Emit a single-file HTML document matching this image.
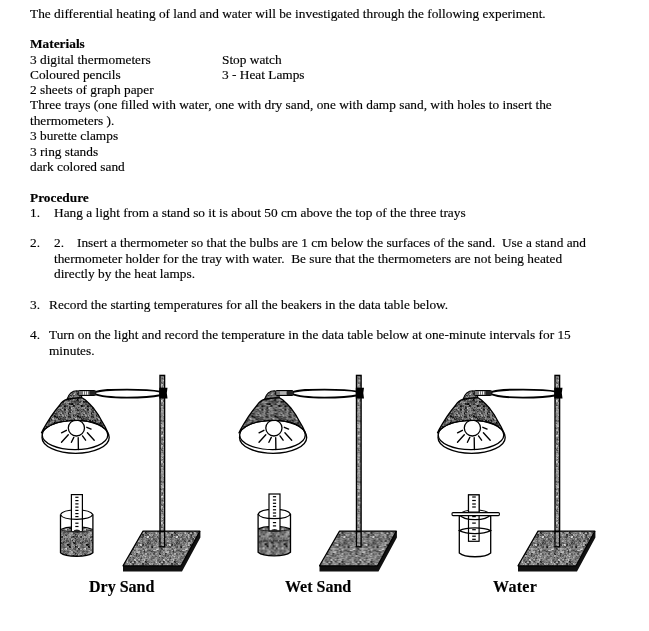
<!DOCTYPE html>
<html><head><meta charset="utf-8">
<style>
html,body{margin:0;padding:0;background:#fff;}
body{width:649px;height:631px;position:relative;overflow:hidden;font-family:"Liberation Serif",serif;font-size:13.333px;color:#000;}
.l{position:absolute;left:30px;white-space:pre;line-height:15.33px;will-change:transform;-webkit-text-stroke:0.15px #000;}
b{font-weight:bold;}
.cap{position:absolute;font-weight:bold;font-size:16px;white-space:pre;line-height:18px;will-change:transform;-webkit-text-stroke:0.15px #000;}
svg{position:absolute;left:0;top:0;}
</style></head><body>
<div class="l" style="top:6px">The differential heating of land and water will be investigated through the following experiment.</div>
<div class="l" style="top:36px"><b>Materials</b></div>
<div class="l" style="top:52px">3 digital thermometers</div>
<div class="l" style="top:52px;left:222px">Stop watch</div>
<div class="l" style="top:67px">Coloured pencils</div>
<div class="l" style="top:67px;left:222px">3 - Heat Lamps</div>
<div class="l" style="top:82px">2 sheets of graph paper</div>
<div class="l" style="top:97px">Three trays (one filled with water, one with dry sand, one with damp sand, with holes to insert the</div>
<div class="l" style="top:113px">thermometers ).</div>
<div class="l" style="top:128px">3 burette clamps</div>
<div class="l" style="top:144px">3 ring stands</div>
<div class="l" style="top:159px">dark colored sand</div>
<div class="l" style="top:190px"><b>Procedure</b></div>
<div class="l" style="top:205px">1.</div><div class="l" style="top:205px;left:54px">Hang a light from a stand so it is about 50 cm above the top of the three trays</div>
<div class="l" style="top:235px">2.</div><div class="l" style="top:235px;left:54px">2.</div><div class="l" style="top:235px;left:77px">Insert a thermometer so that the bulbs are 1 cm below the surfaces of the sand.  Use a stand and</div>
<div class="l" style="top:251px;left:54px">thermometer holder for the tray with water.  Be sure that the thermometers are not being heated</div>
<div class="l" style="top:266px;left:54px">directly by the heat lamps.</div>
<div class="l" style="top:297px">3.</div><div class="l" style="top:297px;left:49px">Record the starting temperatures for all the beakers in the data table below.</div>
<div class="l" style="top:327px">4.</div><div class="l" style="top:327px;left:49px">Turn on the light and record the temperature in the data table below at one-minute intervals for 15</div>
<div class="l" style="top:343px;left:49px">minutes.</div>
<svg width="649" height="631" viewBox="0 0 649 631">
<defs><pattern id="pshade" width="23" height="23" patternUnits="userSpaceOnUse"><rect x="0" y="0" width="1" height="1" fill="#3d3d3d"/><rect x="1" y="0" width="1" height="1" fill="#5b5b5b"/><rect x="2" y="0" width="1" height="1" fill="#787878"/><rect x="3" y="0" width="1" height="1" fill="#757575"/><rect x="4" y="0" width="1" height="1" fill="#4e4e4e"/><rect x="5" y="0" width="1" height="1" fill="#656565"/><rect x="6" y="0" width="1" height="1" fill="#5a5a5a"/><rect x="7" y="0" width="1" height="1" fill="#494949"/><rect x="8" y="0" width="1" height="1" fill="#757575"/><rect x="9" y="0" width="1" height="1" fill="#484848"/><rect x="10" y="0" width="1" height="1" fill="#4b4b4b"/><rect x="11" y="0" width="1" height="1" fill="#555555"/><rect x="12" y="0" width="1" height="1" fill="#7e7e7e"/><rect x="13" y="0" width="1" height="1" fill="#828282"/><rect x="14" y="0" width="1" height="1" fill="#303030"/><rect x="15" y="0" width="1" height="1" fill="#626262"/><rect x="16" y="0" width="1" height="1" fill="#979797"/><rect x="17" y="0" width="1" height="1" fill="#676767"/><rect x="18" y="0" width="1" height="1" fill="#656565"/><rect x="19" y="0" width="1" height="1" fill="#7c7c7c"/><rect x="20" y="0" width="1" height="1" fill="#7e7e7e"/><rect x="21" y="0" width="1" height="1" fill="#8c8c8c"/><rect x="22" y="0" width="1" height="1" fill="#3f3f3f"/><rect x="0" y="1" width="1" height="1" fill="#4e4e4e"/><rect x="1" y="1" width="1" height="1" fill="#4f4f4f"/><rect x="2" y="1" width="1" height="1" fill="#7d7d7d"/><rect x="3" y="1" width="1" height="1" fill="#878787"/><rect x="4" y="1" width="1" height="1" fill="#1c1c1c"/><rect x="5" y="1" width="1" height="1" fill="#6f6f6f"/><rect x="6" y="1" width="1" height="1" fill="#343434"/><rect x="7" y="1" width="1" height="1" fill="#636363"/><rect x="8" y="1" width="1" height="1" fill="#1f1f1f"/><rect x="9" y="1" width="1" height="1" fill="#444444"/><rect x="10" y="1" width="1" height="1" fill="#727272"/><rect x="11" y="1" width="1" height="1" fill="#545454"/><rect x="12" y="1" width="1" height="1" fill="#878787"/><rect x="13" y="1" width="1" height="1" fill="#959595"/><rect x="14" y="1" width="1" height="1" fill="#707070"/><rect x="15" y="1" width="1" height="1" fill="#6b6b6b"/><rect x="16" y="1" width="1" height="1" fill="#a2a2a2"/><rect x="17" y="1" width="1" height="1" fill="#989898"/><rect x="18" y="1" width="1" height="1" fill="#606060"/><rect x="19" y="1" width="1" height="1" fill="#a3a3a3"/><rect x="20" y="1" width="1" height="1" fill="#525252"/><rect x="21" y="1" width="1" height="1" fill="#808080"/><rect x="22" y="1" width="1" height="1" fill="#5f5f5f"/><rect x="0" y="2" width="1" height="1" fill="#2a2a2a"/><rect x="1" y="2" width="1" height="1" fill="#373737"/><rect x="2" y="2" width="1" height="1" fill="#808080"/><rect x="3" y="2" width="1" height="1" fill="#898989"/><rect x="4" y="2" width="1" height="1" fill="#4e4e4e"/><rect x="5" y="2" width="1" height="1" fill="#4e4e4e"/><rect x="6" y="2" width="1" height="1" fill="#7c7c7c"/><rect x="7" y="2" width="1" height="1" fill="#5a5a5a"/><rect x="8" y="2" width="1" height="1" fill="#101010"/><rect x="9" y="2" width="1" height="1" fill="#060606"/><rect x="10" y="2" width="1" height="1" fill="#414141"/><rect x="11" y="2" width="1" height="1" fill="#353535"/><rect x="12" y="2" width="1" height="1" fill="#626262"/><rect x="13" y="2" width="1" height="1" fill="#2d2d2d"/><rect x="14" y="2" width="1" height="1" fill="#4f4f4f"/><rect x="15" y="2" width="1" height="1" fill="#363636"/><rect x="16" y="2" width="1" height="1" fill="#797979"/><rect x="17" y="2" width="1" height="1" fill="#8c8c8c"/><rect x="18" y="2" width="1" height="1" fill="#494949"/><rect x="19" y="2" width="1" height="1" fill="#7f7f7f"/><rect x="20" y="2" width="1" height="1" fill="#858585"/><rect x="21" y="2" width="1" height="1" fill="#6c6c6c"/><rect x="22" y="2" width="1" height="1" fill="#1e1e1e"/><rect x="0" y="3" width="1" height="1" fill="#464646"/><rect x="1" y="3" width="1" height="1" fill="#252525"/><rect x="2" y="3" width="1" height="1" fill="#6d6d6d"/><rect x="3" y="3" width="1" height="1" fill="#848484"/><rect x="4" y="3" width="1" height="1" fill="#787878"/><rect x="5" y="3" width="1" height="1" fill="#909090"/><rect x="6" y="3" width="1" height="1" fill="#595959"/><rect x="7" y="3" width="1" height="1" fill="#888888"/><rect x="8" y="3" width="1" height="1" fill="#474747"/><rect x="9" y="3" width="1" height="1" fill="#474747"/><rect x="10" y="3" width="1" height="1" fill="#212121"/><rect x="11" y="3" width="1" height="1" fill="#151515"/><rect x="12" y="3" width="1" height="1" fill="#585858"/><rect x="13" y="3" width="1" height="1" fill="#444444"/><rect x="14" y="3" width="1" height="1" fill="#525252"/><rect x="15" y="3" width="1" height="1" fill="#6e6e6e"/><rect x="16" y="3" width="1" height="1" fill="#636363"/><rect x="17" y="3" width="1" height="1" fill="#363636"/><rect x="18" y="3" width="1" height="1" fill="#545454"/><rect x="19" y="3" width="1" height="1" fill="#343434"/><rect x="20" y="3" width="1" height="1" fill="#828282"/><rect x="21" y="3" width="1" height="1" fill="#777777"/><rect x="22" y="3" width="1" height="1" fill="#3c3c3c"/><rect x="0" y="4" width="1" height="1" fill="#686868"/><rect x="1" y="4" width="1" height="1" fill="#7b7b7b"/><rect x="2" y="4" width="1" height="1" fill="#6d6d6d"/><rect x="3" y="4" width="1" height="1" fill="#898989"/><rect x="4" y="4" width="1" height="1" fill="#474747"/><rect x="5" y="4" width="1" height="1" fill="#606060"/><rect x="6" y="4" width="1" height="1" fill="#b8b8b8"/><rect x="7" y="4" width="1" height="1" fill="#bbbbbb"/><rect x="8" y="4" width="1" height="1" fill="#626262"/><rect x="9" y="4" width="1" height="1" fill="#848484"/><rect x="10" y="4" width="1" height="1" fill="#5d5d5d"/><rect x="11" y="4" width="1" height="1" fill="#6e6e6e"/><rect x="12" y="4" width="1" height="1" fill="#1f1f1f"/><rect x="13" y="4" width="1" height="1" fill="#626262"/><rect x="14" y="4" width="1" height="1" fill="#2b2b2b"/><rect x="15" y="4" width="1" height="1" fill="#464646"/><rect x="16" y="4" width="1" height="1" fill="#4f4f4f"/><rect x="17" y="4" width="1" height="1" fill="#535353"/><rect x="18" y="4" width="1" height="1" fill="#4e4e4e"/><rect x="19" y="4" width="1" height="1" fill="#606060"/><rect x="20" y="4" width="1" height="1" fill="#9b9b9b"/><rect x="21" y="4" width="1" height="1" fill="#747474"/><rect x="22" y="4" width="1" height="1" fill="#727272"/><rect x="0" y="5" width="1" height="1" fill="#7f7f7f"/><rect x="1" y="5" width="1" height="1" fill="#646464"/><rect x="2" y="5" width="1" height="1" fill="#505050"/><rect x="3" y="5" width="1" height="1" fill="#5f5f5f"/><rect x="4" y="5" width="1" height="1" fill="#606060"/><rect x="5" y="5" width="1" height="1" fill="#242424"/><rect x="6" y="5" width="1" height="1" fill="#8a8a8a"/><rect x="7" y="5" width="1" height="1" fill="#adadad"/><rect x="8" y="5" width="1" height="1" fill="#828282"/><rect x="9" y="5" width="1" height="1" fill="#717171"/><rect x="10" y="5" width="1" height="1" fill="#989898"/><rect x="11" y="5" width="1" height="1" fill="#8a8a8a"/><rect x="12" y="5" width="1" height="1" fill="#303030"/><rect x="13" y="5" width="1" height="1" fill="#282828"/><rect x="14" y="5" width="1" height="1" fill="#383838"/><rect x="15" y="5" width="1" height="1" fill="#5a5a5a"/><rect x="16" y="5" width="1" height="1" fill="#474747"/><rect x="17" y="5" width="1" height="1" fill="#3f3f3f"/><rect x="18" y="5" width="1" height="1" fill="#4a4a4a"/><rect x="19" y="5" width="1" height="1" fill="#393939"/><rect x="20" y="5" width="1" height="1" fill="#717171"/><rect x="21" y="5" width="1" height="1" fill="#595959"/><rect x="22" y="5" width="1" height="1" fill="#6f6f6f"/><rect x="0" y="6" width="1" height="1" fill="#1c1c1c"/><rect x="1" y="6" width="1" height="1" fill="#575757"/><rect x="2" y="6" width="1" height="1" fill="#313131"/><rect x="3" y="6" width="1" height="1" fill="#141414"/><rect x="4" y="6" width="1" height="1" fill="#5d5d5d"/><rect x="5" y="6" width="1" height="1" fill="#474747"/><rect x="6" y="6" width="1" height="1" fill="#565656"/><rect x="7" y="6" width="1" height="1" fill="#747474"/><rect x="8" y="6" width="1" height="1" fill="#4a4a4a"/><rect x="9" y="6" width="1" height="1" fill="#3a3a3a"/><rect x="10" y="6" width="1" height="1" fill="#787878"/><rect x="11" y="6" width="1" height="1" fill="#777777"/><rect x="12" y="6" width="1" height="1" fill="#7b7b7b"/><rect x="13" y="6" width="1" height="1" fill="#747474"/><rect x="14" y="6" width="1" height="1" fill="#4b4b4b"/><rect x="15" y="6" width="1" height="1" fill="#3c3c3c"/><rect x="16" y="6" width="1" height="1" fill="#6a6a6a"/><rect x="17" y="6" width="1" height="1" fill="#323232"/><rect x="18" y="6" width="1" height="1" fill="#9d9d9d"/><rect x="19" y="6" width="1" height="1" fill="#a6a6a6"/><rect x="20" y="6" width="1" height="1" fill="#151515"/><rect x="21" y="6" width="1" height="1" fill="#121212"/><rect x="22" y="6" width="1" height="1" fill="#7f7f7f"/><rect x="0" y="7" width="1" height="1" fill="#292929"/><rect x="1" y="7" width="1" height="1" fill="#5a5a5a"/><rect x="2" y="7" width="1" height="1" fill="#747474"/><rect x="3" y="7" width="1" height="1" fill="#2b2b2b"/><rect x="4" y="7" width="1" height="1" fill="#5c5c5c"/><rect x="5" y="7" width="1" height="1" fill="#777777"/><rect x="6" y="7" width="1" height="1" fill="#848484"/><rect x="7" y="7" width="1" height="1" fill="#939393"/><rect x="8" y="7" width="1" height="1" fill="#585858"/><rect x="9" y="7" width="1" height="1" fill="#303030"/><rect x="10" y="7" width="1" height="1" fill="#656565"/><rect x="11" y="7" width="1" height="1" fill="#6d6d6d"/><rect x="12" y="7" width="1" height="1" fill="#7f7f7f"/><rect x="13" y="7" width="1" height="1" fill="#6c6c6c"/><rect x="14" y="7" width="1" height="1" fill="#292929"/><rect x="15" y="7" width="1" height="1" fill="#171717"/><rect x="16" y="7" width="1" height="1" fill="#585858"/><rect x="17" y="7" width="1" height="1" fill="#747474"/><rect x="18" y="7" width="1" height="1" fill="#8c8c8c"/><rect x="19" y="7" width="1" height="1" fill="#777777"/><rect x="20" y="7" width="1" height="1" fill="#0a0a0a"/><rect x="21" y="7" width="1" height="1" fill="#575757"/><rect x="22" y="7" width="1" height="1" fill="#6d6d6d"/><rect x="0" y="8" width="1" height="1" fill="#696969"/><rect x="1" y="8" width="1" height="1" fill="#222222"/><rect x="2" y="8" width="1" height="1" fill="#515151"/><rect x="3" y="8" width="1" height="1" fill="#4e4e4e"/><rect x="4" y="8" width="1" height="1" fill="#949494"/><rect x="5" y="8" width="1" height="1" fill="#787878"/><rect x="6" y="8" width="1" height="1" fill="#5b5b5b"/><rect x="7" y="8" width="1" height="1" fill="#686868"/><rect x="8" y="8" width="1" height="1" fill="#030303"/><rect x="9" y="8" width="1" height="1" fill="#454545"/><rect x="10" y="8" width="1" height="1" fill="#818181"/><rect x="11" y="8" width="1" height="1" fill="#6a6a6a"/><rect x="12" y="8" width="1" height="1" fill="#929292"/><rect x="13" y="8" width="1" height="1" fill="#9c9c9c"/><rect x="14" y="8" width="1" height="1" fill="#5f5f5f"/><rect x="15" y="8" width="1" height="1" fill="#6f6f6f"/><rect x="16" y="8" width="1" height="1" fill="#949494"/><rect x="17" y="8" width="1" height="1" fill="#929292"/><rect x="18" y="8" width="1" height="1" fill="#626262"/><rect x="19" y="8" width="1" height="1" fill="#555555"/><rect x="20" y="8" width="1" height="1" fill="#919191"/><rect x="21" y="8" width="1" height="1" fill="#797979"/><rect x="22" y="8" width="1" height="1" fill="#191919"/><rect x="0" y="9" width="1" height="1" fill="#3d3d3d"/><rect x="1" y="9" width="1" height="1" fill="#808080"/><rect x="2" y="9" width="1" height="1" fill="#595959"/><rect x="3" y="9" width="1" height="1" fill="#6c6c6c"/><rect x="4" y="9" width="1" height="1" fill="#818181"/><rect x="5" y="9" width="1" height="1" fill="#5c5c5c"/><rect x="6" y="9" width="1" height="1" fill="#626262"/><rect x="7" y="9" width="1" height="1" fill="#2d2d2d"/><rect x="8" y="9" width="1" height="1" fill="#1e1e1e"/><rect x="9" y="9" width="1" height="1" fill="#2d2d2d"/><rect x="10" y="9" width="1" height="1" fill="#858585"/><rect x="11" y="9" width="1" height="1" fill="#6a6a6a"/><rect x="12" y="9" width="1" height="1" fill="#727272"/><rect x="13" y="9" width="1" height="1" fill="#7f7f7f"/><rect x="14" y="9" width="1" height="1" fill="#868686"/><rect x="15" y="9" width="1" height="1" fill="#8c8c8c"/><rect x="16" y="9" width="1" height="1" fill="#939393"/><rect x="17" y="9" width="1" height="1" fill="#878787"/><rect x="18" y="9" width="1" height="1" fill="#7c7c7c"/><rect x="19" y="9" width="1" height="1" fill="#6c6c6c"/><rect x="20" y="9" width="1" height="1" fill="#505050"/><rect x="21" y="9" width="1" height="1" fill="#555555"/><rect x="22" y="9" width="1" height="1" fill="#343434"/><rect x="0" y="10" width="1" height="1" fill="#707070"/><rect x="1" y="10" width="1" height="1" fill="#767676"/><rect x="2" y="10" width="1" height="1" fill="#4a4a4a"/><rect x="3" y="10" width="1" height="1" fill="#4e4e4e"/><rect x="4" y="10" width="1" height="1" fill="#4d4d4d"/><rect x="5" y="10" width="1" height="1" fill="#343434"/><rect x="6" y="10" width="1" height="1" fill="#3e3e3e"/><rect x="7" y="10" width="1" height="1" fill="#4c4c4c"/><rect x="8" y="10" width="1" height="1" fill="#484848"/><rect x="9" y="10" width="1" height="1" fill="#3a3a3a"/><rect x="10" y="10" width="1" height="1" fill="#575757"/><rect x="11" y="10" width="1" height="1" fill="#383838"/><rect x="12" y="10" width="1" height="1" fill="#5f5f5f"/><rect x="13" y="10" width="1" height="1" fill="#8a8a8a"/><rect x="14" y="10" width="1" height="1" fill="#070707"/><rect x="15" y="10" width="1" height="1" fill="#2c2c2c"/><rect x="16" y="10" width="1" height="1" fill="#171717"/><rect x="17" y="10" width="1" height="1" fill="#000000"/><rect x="18" y="10" width="1" height="1" fill="#505050"/><rect x="19" y="10" width="1" height="1" fill="#898989"/><rect x="20" y="10" width="1" height="1" fill="#868686"/><rect x="21" y="10" width="1" height="1" fill="#707070"/><rect x="22" y="10" width="1" height="1" fill="#616161"/><rect x="0" y="11" width="1" height="1" fill="#7e7e7e"/><rect x="1" y="11" width="1" height="1" fill="#7e7e7e"/><rect x="2" y="11" width="1" height="1" fill="#4e4e4e"/><rect x="3" y="11" width="1" height="1" fill="#6b6b6b"/><rect x="4" y="11" width="1" height="1" fill="#5f5f5f"/><rect x="5" y="11" width="1" height="1" fill="#4f4f4f"/><rect x="6" y="11" width="1" height="1" fill="#424242"/><rect x="7" y="11" width="1" height="1" fill="#595959"/><rect x="8" y="11" width="1" height="1" fill="#545454"/><rect x="9" y="11" width="1" height="1" fill="#555555"/><rect x="10" y="11" width="1" height="1" fill="#353535"/><rect x="11" y="11" width="1" height="1" fill="#4a4a4a"/><rect x="12" y="11" width="1" height="1" fill="#999999"/><rect x="13" y="11" width="1" height="1" fill="#838383"/><rect x="14" y="11" width="1" height="1" fill="#333333"/><rect x="15" y="11" width="1" height="1" fill="#292929"/><rect x="16" y="11" width="1" height="1" fill="#424242"/><rect x="17" y="11" width="1" height="1" fill="#2a2a2a"/><rect x="18" y="11" width="1" height="1" fill="#9e9e9e"/><rect x="19" y="11" width="1" height="1" fill="#828282"/><rect x="20" y="11" width="1" height="1" fill="#898989"/><rect x="21" y="11" width="1" height="1" fill="#909090"/><rect x="22" y="11" width="1" height="1" fill="#ababab"/><rect x="0" y="12" width="1" height="1" fill="#181818"/><rect x="1" y="12" width="1" height="1" fill="#333333"/><rect x="2" y="12" width="1" height="1" fill="#212121"/><rect x="3" y="12" width="1" height="1" fill="#0c0c0c"/><rect x="4" y="12" width="1" height="1" fill="#515151"/><rect x="5" y="12" width="1" height="1" fill="#6e6e6e"/><rect x="6" y="12" width="1" height="1" fill="#4e4e4e"/><rect x="7" y="12" width="1" height="1" fill="#5f5f5f"/><rect x="8" y="12" width="1" height="1" fill="#4b4b4b"/><rect x="9" y="12" width="1" height="1" fill="#3a3a3a"/><rect x="10" y="12" width="1" height="1" fill="#929292"/><rect x="11" y="12" width="1" height="1" fill="#8b8b8b"/><rect x="12" y="12" width="1" height="1" fill="#878787"/><rect x="13" y="12" width="1" height="1" fill="#848484"/><rect x="14" y="12" width="1" height="1" fill="#5e5e5e"/><rect x="15" y="12" width="1" height="1" fill="#737373"/><rect x="16" y="12" width="1" height="1" fill="#4f4f4f"/><rect x="17" y="12" width="1" height="1" fill="#595959"/><rect x="18" y="12" width="1" height="1" fill="#6d6d6d"/><rect x="19" y="12" width="1" height="1" fill="#4d4d4d"/><rect x="20" y="12" width="1" height="1" fill="#8a8a8a"/><rect x="21" y="12" width="1" height="1" fill="#676767"/><rect x="22" y="12" width="1" height="1" fill="#646464"/><rect x="0" y="13" width="1" height="1" fill="#2c2c2c"/><rect x="1" y="13" width="1" height="1" fill="#2c2c2c"/><rect x="2" y="13" width="1" height="1" fill="#0a0a0a"/><rect x="3" y="13" width="1" height="1" fill="#060606"/><rect x="4" y="13" width="1" height="1" fill="#4b4b4b"/><rect x="5" y="13" width="1" height="1" fill="#939393"/><rect x="6" y="13" width="1" height="1" fill="#525252"/><rect x="7" y="13" width="1" height="1" fill="#5e5e5e"/><rect x="8" y="13" width="1" height="1" fill="#262626"/><rect x="9" y="13" width="1" height="1" fill="#353535"/><rect x="10" y="13" width="1" height="1" fill="#575757"/><rect x="11" y="13" width="1" height="1" fill="#909090"/><rect x="12" y="13" width="1" height="1" fill="#979797"/><rect x="13" y="13" width="1" height="1" fill="#595959"/><rect x="14" y="13" width="1" height="1" fill="#636363"/><rect x="15" y="13" width="1" height="1" fill="#727272"/><rect x="16" y="13" width="1" height="1" fill="#404040"/><rect x="17" y="13" width="1" height="1" fill="#3e3e3e"/><rect x="18" y="13" width="1" height="1" fill="#555555"/><rect x="19" y="13" width="1" height="1" fill="#5f5f5f"/><rect x="20" y="13" width="1" height="1" fill="#747474"/><rect x="21" y="13" width="1" height="1" fill="#949494"/><rect x="22" y="13" width="1" height="1" fill="#787878"/><rect x="0" y="14" width="1" height="1" fill="#7e7e7e"/><rect x="1" y="14" width="1" height="1" fill="#7f7f7f"/><rect x="2" y="14" width="1" height="1" fill="#929292"/><rect x="3" y="14" width="1" height="1" fill="#8a8a8a"/><rect x="4" y="14" width="1" height="1" fill="#0e0e0e"/><rect x="5" y="14" width="1" height="1" fill="#202020"/><rect x="6" y="14" width="1" height="1" fill="#717171"/><rect x="7" y="14" width="1" height="1" fill="#717171"/><rect x="8" y="14" width="1" height="1" fill="#7c7c7c"/><rect x="9" y="14" width="1" height="1" fill="#7e7e7e"/><rect x="10" y="14" width="1" height="1" fill="#7b7b7b"/><rect x="11" y="14" width="1" height="1" fill="#4d4d4d"/><rect x="12" y="14" width="1" height="1" fill="#020202"/><rect x="13" y="14" width="1" height="1" fill="#1d1d1d"/><rect x="14" y="14" width="1" height="1" fill="#454545"/><rect x="15" y="14" width="1" height="1" fill="#434343"/><rect x="16" y="14" width="1" height="1" fill="#797979"/><rect x="17" y="14" width="1" height="1" fill="#6a6a6a"/><rect x="18" y="14" width="1" height="1" fill="#323232"/><rect x="19" y="14" width="1" height="1" fill="#2b2b2b"/><rect x="20" y="14" width="1" height="1" fill="#565656"/><rect x="21" y="14" width="1" height="1" fill="#4a4a4a"/><rect x="22" y="14" width="1" height="1" fill="#7c7c7c"/><rect x="0" y="15" width="1" height="1" fill="#343434"/><rect x="1" y="15" width="1" height="1" fill="#5a5a5a"/><rect x="2" y="15" width="1" height="1" fill="#717171"/><rect x="3" y="15" width="1" height="1" fill="#4f4f4f"/><rect x="4" y="15" width="1" height="1" fill="#2f2f2f"/><rect x="5" y="15" width="1" height="1" fill="#2e2e2e"/><rect x="6" y="15" width="1" height="1" fill="#6a6a6a"/><rect x="7" y="15" width="1" height="1" fill="#838383"/><rect x="8" y="15" width="1" height="1" fill="#777777"/><rect x="9" y="15" width="1" height="1" fill="#888888"/><rect x="10" y="15" width="1" height="1" fill="#7d7d7d"/><rect x="11" y="15" width="1" height="1" fill="#6f6f6f"/><rect x="12" y="15" width="1" height="1" fill="#0b0b0b"/><rect x="13" y="15" width="1" height="1" fill="#1a1a1a"/><rect x="14" y="15" width="1" height="1" fill="#484848"/><rect x="15" y="15" width="1" height="1" fill="#5a5a5a"/><rect x="16" y="15" width="1" height="1" fill="#818181"/><rect x="17" y="15" width="1" height="1" fill="#6a6a6a"/><rect x="18" y="15" width="1" height="1" fill="#050505"/><rect x="19" y="15" width="1" height="1" fill="#1b1b1b"/><rect x="20" y="15" width="1" height="1" fill="#484848"/><rect x="21" y="15" width="1" height="1" fill="#404040"/><rect x="22" y="15" width="1" height="1" fill="#7e7e7e"/><rect x="0" y="16" width="1" height="1" fill="#282828"/><rect x="1" y="16" width="1" height="1" fill="#363636"/><rect x="2" y="16" width="1" height="1" fill="#9f9f9f"/><rect x="3" y="16" width="1" height="1" fill="#8b8b8b"/><rect x="4" y="16" width="1" height="1" fill="#a4a4a4"/><rect x="5" y="16" width="1" height="1" fill="#6a6a6a"/><rect x="6" y="16" width="1" height="1" fill="#727272"/><rect x="7" y="16" width="1" height="1" fill="#5c5c5c"/><rect x="8" y="16" width="1" height="1" fill="#828282"/><rect x="9" y="16" width="1" height="1" fill="#353535"/><rect x="10" y="16" width="1" height="1" fill="#636363"/><rect x="11" y="16" width="1" height="1" fill="#797979"/><rect x="12" y="16" width="1" height="1" fill="#707070"/><rect x="13" y="16" width="1" height="1" fill="#969696"/><rect x="14" y="16" width="1" height="1" fill="#8b8b8b"/><rect x="15" y="16" width="1" height="1" fill="#a0a0a0"/><rect x="16" y="16" width="1" height="1" fill="#5a5a5a"/><rect x="17" y="16" width="1" height="1" fill="#5e5e5e"/><rect x="18" y="16" width="1" height="1" fill="#5c5c5c"/><rect x="19" y="16" width="1" height="1" fill="#4d4d4d"/><rect x="20" y="16" width="1" height="1" fill="#8c8c8c"/><rect x="21" y="16" width="1" height="1" fill="#696969"/><rect x="22" y="16" width="1" height="1" fill="#797979"/><rect x="0" y="17" width="1" height="1" fill="#1d1d1d"/><rect x="1" y="17" width="1" height="1" fill="#393939"/><rect x="2" y="17" width="1" height="1" fill="#c2c2c2"/><rect x="3" y="17" width="1" height="1" fill="#8f8f8f"/><rect x="4" y="17" width="1" height="1" fill="#717171"/><rect x="5" y="17" width="1" height="1" fill="#8a8a8a"/><rect x="6" y="17" width="1" height="1" fill="#5a5a5a"/><rect x="7" y="17" width="1" height="1" fill="#484848"/><rect x="8" y="17" width="1" height="1" fill="#6f6f6f"/><rect x="9" y="17" width="1" height="1" fill="#767676"/><rect x="10" y="17" width="1" height="1" fill="#848484"/><rect x="11" y="17" width="1" height="1" fill="#636363"/><rect x="12" y="17" width="1" height="1" fill="#898989"/><rect x="13" y="17" width="1" height="1" fill="#878787"/><rect x="14" y="17" width="1" height="1" fill="#858585"/><rect x="15" y="17" width="1" height="1" fill="#8a8a8a"/><rect x="16" y="17" width="1" height="1" fill="#3f3f3f"/><rect x="17" y="17" width="1" height="1" fill="#686868"/><rect x="18" y="17" width="1" height="1" fill="#414141"/><rect x="19" y="17" width="1" height="1" fill="#606060"/><rect x="20" y="17" width="1" height="1" fill="#767676"/><rect x="21" y="17" width="1" height="1" fill="#727272"/><rect x="22" y="17" width="1" height="1" fill="#6f6f6f"/><rect x="0" y="18" width="1" height="1" fill="#5f5f5f"/><rect x="1" y="18" width="1" height="1" fill="#414141"/><rect x="2" y="18" width="1" height="1" fill="#6f6f6f"/><rect x="3" y="18" width="1" height="1" fill="#909090"/><rect x="4" y="18" width="1" height="1" fill="#8e8e8e"/><rect x="5" y="18" width="1" height="1" fill="#969696"/><rect x="6" y="18" width="1" height="1" fill="#717171"/><rect x="7" y="18" width="1" height="1" fill="#696969"/><rect x="8" y="18" width="1" height="1" fill="#262626"/><rect x="9" y="18" width="1" height="1" fill="#636363"/><rect x="10" y="18" width="1" height="1" fill="#5a5a5a"/><rect x="11" y="18" width="1" height="1" fill="#6b6b6b"/><rect x="12" y="18" width="1" height="1" fill="#4b4b4b"/><rect x="13" y="18" width="1" height="1" fill="#595959"/><rect x="14" y="18" width="1" height="1" fill="#2e2e2e"/><rect x="15" y="18" width="1" height="1" fill="#7c7c7c"/><rect x="16" y="18" width="1" height="1" fill="#ababab"/><rect x="17" y="18" width="1" height="1" fill="#727272"/><rect x="18" y="18" width="1" height="1" fill="#1b1b1b"/><rect x="19" y="18" width="1" height="1" fill="#191919"/><rect x="20" y="18" width="1" height="1" fill="#a2a2a2"/><rect x="21" y="18" width="1" height="1" fill="#7e7e7e"/><rect x="22" y="18" width="1" height="1" fill="#333333"/><rect x="0" y="19" width="1" height="1" fill="#3b3b3b"/><rect x="1" y="19" width="1" height="1" fill="#3f3f3f"/><rect x="2" y="19" width="1" height="1" fill="#666666"/><rect x="3" y="19" width="1" height="1" fill="#7e7e7e"/><rect x="4" y="19" width="1" height="1" fill="#6f6f6f"/><rect x="5" y="19" width="1" height="1" fill="#8d8d8d"/><rect x="6" y="19" width="1" height="1" fill="#575757"/><rect x="7" y="19" width="1" height="1" fill="#5a5a5a"/><rect x="8" y="19" width="1" height="1" fill="#2c2c2c"/><rect x="9" y="19" width="1" height="1" fill="#1d1d1d"/><rect x="10" y="19" width="1" height="1" fill="#5e5e5e"/><rect x="11" y="19" width="1" height="1" fill="#4f4f4f"/><rect x="12" y="19" width="1" height="1" fill="#7c7c7c"/><rect x="13" y="19" width="1" height="1" fill="#6a6a6a"/><rect x="14" y="19" width="1" height="1" fill="#525252"/><rect x="15" y="19" width="1" height="1" fill="#4a4a4a"/><rect x="16" y="19" width="1" height="1" fill="#7d7d7d"/><rect x="17" y="19" width="1" height="1" fill="#787878"/><rect x="18" y="19" width="1" height="1" fill="#353535"/><rect x="19" y="19" width="1" height="1" fill="#434343"/><rect x="20" y="19" width="1" height="1" fill="#939393"/><rect x="21" y="19" width="1" height="1" fill="#959595"/><rect x="22" y="19" width="1" height="1" fill="#636363"/><rect x="0" y="20" width="1" height="1" fill="#353535"/><rect x="1" y="20" width="1" height="1" fill="#454545"/><rect x="2" y="20" width="1" height="1" fill="#b1b1b1"/><rect x="3" y="20" width="1" height="1" fill="#4a4a4a"/><rect x="4" y="20" width="1" height="1" fill="#787878"/><rect x="5" y="20" width="1" height="1" fill="#878787"/><rect x="6" y="20" width="1" height="1" fill="#7e7e7e"/><rect x="7" y="20" width="1" height="1" fill="#848484"/><rect x="8" y="20" width="1" height="1" fill="#656565"/><rect x="9" y="20" width="1" height="1" fill="#727272"/><rect x="10" y="20" width="1" height="1" fill="#646464"/><rect x="11" y="20" width="1" height="1" fill="#747474"/><rect x="12" y="20" width="1" height="1" fill="#3a3a3a"/><rect x="13" y="20" width="1" height="1" fill="#505050"/><rect x="14" y="20" width="1" height="1" fill="#717171"/><rect x="15" y="20" width="1" height="1" fill="#5b5b5b"/><rect x="16" y="20" width="1" height="1" fill="#424242"/><rect x="17" y="20" width="1" height="1" fill="#666666"/><rect x="18" y="20" width="1" height="1" fill="#595959"/><rect x="19" y="20" width="1" height="1" fill="#767676"/><rect x="20" y="20" width="1" height="1" fill="#828282"/><rect x="21" y="20" width="1" height="1" fill="#787878"/><rect x="22" y="20" width="1" height="1" fill="#6a6a6a"/><rect x="0" y="21" width="1" height="1" fill="#424242"/><rect x="1" y="21" width="1" height="1" fill="#262626"/><rect x="2" y="21" width="1" height="1" fill="#737373"/><rect x="3" y="21" width="1" height="1" fill="#7d7d7d"/><rect x="4" y="21" width="1" height="1" fill="#787878"/><rect x="5" y="21" width="1" height="1" fill="#828282"/><rect x="6" y="21" width="1" height="1" fill="#8b8b8b"/><rect x="7" y="21" width="1" height="1" fill="#686868"/><rect x="8" y="21" width="1" height="1" fill="#787878"/><rect x="9" y="21" width="1" height="1" fill="#939393"/><rect x="10" y="21" width="1" height="1" fill="#575757"/><rect x="11" y="21" width="1" height="1" fill="#666666"/><rect x="12" y="21" width="1" height="1" fill="#606060"/><rect x="13" y="21" width="1" height="1" fill="#858585"/><rect x="14" y="21" width="1" height="1" fill="#787878"/><rect x="15" y="21" width="1" height="1" fill="#858585"/><rect x="16" y="21" width="1" height="1" fill="#4a4a4a"/><rect x="17" y="21" width="1" height="1" fill="#585858"/><rect x="18" y="21" width="1" height="1" fill="#676767"/><rect x="19" y="21" width="1" height="1" fill="#414141"/><rect x="20" y="21" width="1" height="1" fill="#919191"/><rect x="21" y="21" width="1" height="1" fill="#858585"/><rect x="22" y="21" width="1" height="1" fill="#383838"/><rect x="0" y="22" width="1" height="1" fill="#888888"/><rect x="1" y="22" width="1" height="1" fill="#757575"/><rect x="2" y="22" width="1" height="1" fill="#7b7b7b"/><rect x="3" y="22" width="1" height="1" fill="#797979"/><rect x="4" y="22" width="1" height="1" fill="#808080"/><rect x="5" y="22" width="1" height="1" fill="#9c9c9c"/><rect x="6" y="22" width="1" height="1" fill="#8a8a8a"/><rect x="7" y="22" width="1" height="1" fill="#5d5d5d"/><rect x="8" y="22" width="1" height="1" fill="#3a3a3a"/><rect x="9" y="22" width="1" height="1" fill="#323232"/><rect x="10" y="22" width="1" height="1" fill="#373737"/><rect x="11" y="22" width="1" height="1" fill="#5a5a5a"/><rect x="12" y="22" width="1" height="1" fill="#838383"/><rect x="13" y="22" width="1" height="1" fill="#686868"/><rect x="14" y="22" width="1" height="1" fill="#828282"/><rect x="15" y="22" width="1" height="1" fill="#aeaeae"/><rect x="16" y="22" width="1" height="1" fill="#484848"/><rect x="17" y="22" width="1" height="1" fill="#454545"/><rect x="18" y="22" width="1" height="1" fill="#777777"/><rect x="19" y="22" width="1" height="1" fill="#777777"/><rect x="20" y="22" width="1" height="1" fill="#858585"/><rect x="21" y="22" width="1" height="1" fill="#818181"/><rect x="22" y="22" width="1" height="1" fill="#101010"/></pattern><pattern id="pcap" width="11" height="11" patternUnits="userSpaceOnUse"><rect x="0" y="0" width="1" height="1" fill="#777777"/><rect x="1" y="0" width="1" height="1" fill="#818181"/><rect x="2" y="0" width="1" height="1" fill="#393939"/><rect x="3" y="0" width="1" height="1" fill="#4e4e4e"/><rect x="4" y="0" width="1" height="1" fill="#909090"/><rect x="5" y="0" width="1" height="1" fill="#5d5d5d"/><rect x="6" y="0" width="1" height="1" fill="#959595"/><rect x="7" y="0" width="1" height="1" fill="#525252"/><rect x="8" y="0" width="1" height="1" fill="#828282"/><rect x="9" y="0" width="1" height="1" fill="#858585"/><rect x="10" y="0" width="1" height="1" fill="#858585"/><rect x="0" y="1" width="1" height="1" fill="#5f5f5f"/><rect x="1" y="1" width="1" height="1" fill="#4c4c4c"/><rect x="2" y="1" width="1" height="1" fill="#555555"/><rect x="3" y="1" width="1" height="1" fill="#595959"/><rect x="4" y="1" width="1" height="1" fill="#7a7a7a"/><rect x="5" y="1" width="1" height="1" fill="#a6a6a6"/><rect x="6" y="1" width="1" height="1" fill="#656565"/><rect x="7" y="1" width="1" height="1" fill="#666666"/><rect x="8" y="1" width="1" height="1" fill="#969696"/><rect x="9" y="1" width="1" height="1" fill="#8a8a8a"/><rect x="10" y="1" width="1" height="1" fill="#939393"/><rect x="0" y="2" width="1" height="1" fill="#545454"/><rect x="1" y="2" width="1" height="1" fill="#676767"/><rect x="2" y="2" width="1" height="1" fill="#1b1b1b"/><rect x="3" y="2" width="1" height="1" fill="#797979"/><rect x="4" y="2" width="1" height="1" fill="#8d8d8d"/><rect x="5" y="2" width="1" height="1" fill="#aaaaaa"/><rect x="6" y="2" width="1" height="1" fill="#d0d0d0"/><rect x="7" y="2" width="1" height="1" fill="#a0a0a0"/><rect x="8" y="2" width="1" height="1" fill="#616161"/><rect x="9" y="2" width="1" height="1" fill="#5b5b5b"/><rect x="10" y="2" width="1" height="1" fill="#7c7c7c"/><rect x="0" y="3" width="1" height="1" fill="#626262"/><rect x="1" y="3" width="1" height="1" fill="#7e7e7e"/><rect x="2" y="3" width="1" height="1" fill="#686868"/><rect x="3" y="3" width="1" height="1" fill="#686868"/><rect x="4" y="3" width="1" height="1" fill="#919191"/><rect x="5" y="3" width="1" height="1" fill="#a9a9a9"/><rect x="6" y="3" width="1" height="1" fill="#ababab"/><rect x="7" y="3" width="1" height="1" fill="#9d9d9d"/><rect x="8" y="3" width="1" height="1" fill="#757575"/><rect x="9" y="3" width="1" height="1" fill="#636363"/><rect x="10" y="3" width="1" height="1" fill="#757575"/><rect x="0" y="4" width="1" height="1" fill="#7a7a7a"/><rect x="1" y="4" width="1" height="1" fill="#646464"/><rect x="2" y="4" width="1" height="1" fill="#606060"/><rect x="3" y="4" width="1" height="1" fill="#8d8d8d"/><rect x="4" y="4" width="1" height="1" fill="#939393"/><rect x="5" y="4" width="1" height="1" fill="#696969"/><rect x="6" y="4" width="1" height="1" fill="#c8c8c8"/><rect x="7" y="4" width="1" height="1" fill="#acacac"/><rect x="8" y="4" width="1" height="1" fill="#797979"/><rect x="9" y="4" width="1" height="1" fill="#6a6a6a"/><rect x="10" y="4" width="1" height="1" fill="#6d6d6d"/><rect x="0" y="5" width="1" height="1" fill="#373737"/><rect x="1" y="5" width="1" height="1" fill="#6f6f6f"/><rect x="2" y="5" width="1" height="1" fill="#767676"/><rect x="3" y="5" width="1" height="1" fill="#6f6f6f"/><rect x="4" y="5" width="1" height="1" fill="#939393"/><rect x="5" y="5" width="1" height="1" fill="#8d8d8d"/><rect x="6" y="5" width="1" height="1" fill="#b3b3b3"/><rect x="7" y="5" width="1" height="1" fill="#9c9c9c"/><rect x="8" y="5" width="1" height="1" fill="#656565"/><rect x="9" y="5" width="1" height="1" fill="#373737"/><rect x="10" y="5" width="1" height="1" fill="#676767"/><rect x="0" y="6" width="1" height="1" fill="#888888"/><rect x="1" y="6" width="1" height="1" fill="#969696"/><rect x="2" y="6" width="1" height="1" fill="#393939"/><rect x="3" y="6" width="1" height="1" fill="#3e3e3e"/><rect x="4" y="6" width="1" height="1" fill="#969696"/><rect x="5" y="6" width="1" height="1" fill="#6c6c6c"/><rect x="6" y="6" width="1" height="1" fill="#6c6c6c"/><rect x="7" y="6" width="1" height="1" fill="#818181"/><rect x="8" y="6" width="1" height="1" fill="#808080"/><rect x="9" y="6" width="1" height="1" fill="#9a9a9a"/><rect x="10" y="6" width="1" height="1" fill="#3e3e3e"/><rect x="0" y="7" width="1" height="1" fill="#7e7e7e"/><rect x="1" y="7" width="1" height="1" fill="#777777"/><rect x="2" y="7" width="1" height="1" fill="#444444"/><rect x="3" y="7" width="1" height="1" fill="#5a5a5a"/><rect x="4" y="7" width="1" height="1" fill="#a8a8a8"/><rect x="5" y="7" width="1" height="1" fill="#646464"/><rect x="6" y="7" width="1" height="1" fill="#505050"/><rect x="7" y="7" width="1" height="1" fill="#676767"/><rect x="8" y="7" width="1" height="1" fill="#686868"/><rect x="9" y="7" width="1" height="1" fill="#8a8a8a"/><rect x="10" y="7" width="1" height="1" fill="#5a5a5a"/><rect x="0" y="8" width="1" height="1" fill="#2b2b2b"/><rect x="1" y="8" width="1" height="1" fill="#3d3d3d"/><rect x="2" y="8" width="1" height="1" fill="#525252"/><rect x="3" y="8" width="1" height="1" fill="#848484"/><rect x="4" y="8" width="1" height="1" fill="#595959"/><rect x="5" y="8" width="1" height="1" fill="#6c6c6c"/><rect x="6" y="8" width="1" height="1" fill="#545454"/><rect x="7" y="8" width="1" height="1" fill="#585858"/><rect x="8" y="8" width="1" height="1" fill="#a3a3a3"/><rect x="9" y="8" width="1" height="1" fill="#929292"/><rect x="10" y="8" width="1" height="1" fill="#616161"/><rect x="0" y="9" width="1" height="1" fill="#3d3d3d"/><rect x="1" y="9" width="1" height="1" fill="#545454"/><rect x="2" y="9" width="1" height="1" fill="#747474"/><rect x="3" y="9" width="1" height="1" fill="#7c7c7c"/><rect x="4" y="9" width="1" height="1" fill="#969696"/><rect x="5" y="9" width="1" height="1" fill="#818181"/><rect x="6" y="9" width="1" height="1" fill="#444444"/><rect x="7" y="9" width="1" height="1" fill="#979797"/><rect x="8" y="9" width="1" height="1" fill="#c0c0c0"/><rect x="9" y="9" width="1" height="1" fill="#646464"/><rect x="10" y="9" width="1" height="1" fill="#696969"/><rect x="0" y="10" width="1" height="1" fill="#686868"/><rect x="1" y="10" width="1" height="1" fill="#747474"/><rect x="2" y="10" width="1" height="1" fill="#919191"/><rect x="3" y="10" width="1" height="1" fill="#7c7c7c"/><rect x="4" y="10" width="1" height="1" fill="#282828"/><rect x="5" y="10" width="1" height="1" fill="#414141"/><rect x="6" y="10" width="1" height="1" fill="#737373"/><rect x="7" y="10" width="1" height="1" fill="#444444"/><rect x="8" y="10" width="1" height="1" fill="#5b5b5b"/><rect x="9" y="10" width="1" height="1" fill="#717171"/><rect x="10" y="10" width="1" height="1" fill="#646464"/></pattern><pattern id="pbase" width="29" height="29" patternUnits="userSpaceOnUse"><rect x="0" y="0" width="1" height="1" fill="#767676"/><rect x="1" y="0" width="1" height="1" fill="#727272"/><rect x="2" y="0" width="1" height="1" fill="#686868"/><rect x="3" y="0" width="1" height="1" fill="#747474"/><rect x="4" y="0" width="1" height="1" fill="#797979"/><rect x="5" y="0" width="1" height="1" fill="#646464"/><rect x="6" y="0" width="1" height="1" fill="#3f3f3f"/><rect x="7" y="0" width="1" height="1" fill="#505050"/><rect x="8" y="0" width="1" height="1" fill="#545454"/><rect x="9" y="0" width="1" height="1" fill="#616161"/><rect x="10" y="0" width="1" height="1" fill="#707070"/><rect x="11" y="0" width="1" height="1" fill="#797979"/><rect x="12" y="0" width="1" height="1" fill="#7a7a7a"/><rect x="13" y="0" width="1" height="1" fill="#6a6a6a"/><rect x="14" y="0" width="1" height="1" fill="#5b5b5b"/><rect x="15" y="0" width="1" height="1" fill="#414141"/><rect x="16" y="0" width="1" height="1" fill="#777777"/><rect x="17" y="0" width="1" height="1" fill="#838383"/><rect x="18" y="0" width="1" height="1" fill="#979797"/><rect x="19" y="0" width="1" height="1" fill="#8c8c8c"/><rect x="20" y="0" width="1" height="1" fill="#969696"/><rect x="21" y="0" width="1" height="1" fill="#aaaaaa"/><rect x="22" y="0" width="1" height="1" fill="#a8a8a8"/><rect x="23" y="0" width="1" height="1" fill="#b5b5b5"/><rect x="24" y="0" width="1" height="1" fill="#6f6f6f"/><rect x="25" y="0" width="1" height="1" fill="#686868"/><rect x="26" y="0" width="1" height="1" fill="#868686"/><rect x="27" y="0" width="1" height="1" fill="#646464"/><rect x="28" y="0" width="1" height="1" fill="#303030"/><rect x="0" y="1" width="1" height="1" fill="#646464"/><rect x="1" y="1" width="1" height="1" fill="#646464"/><rect x="2" y="1" width="1" height="1" fill="#8a8a8a"/><rect x="3" y="1" width="1" height="1" fill="#8d8d8d"/><rect x="4" y="1" width="1" height="1" fill="#868686"/><rect x="5" y="1" width="1" height="1" fill="#909090"/><rect x="6" y="1" width="1" height="1" fill="#7c7c7c"/><rect x="7" y="1" width="1" height="1" fill="#757575"/><rect x="8" y="1" width="1" height="1" fill="#777777"/><rect x="9" y="1" width="1" height="1" fill="#4b4b4b"/><rect x="10" y="1" width="1" height="1" fill="#636363"/><rect x="11" y="1" width="1" height="1" fill="#777777"/><rect x="12" y="1" width="1" height="1" fill="#929292"/><rect x="13" y="1" width="1" height="1" fill="#7a7a7a"/><rect x="14" y="1" width="1" height="1" fill="#585858"/><rect x="15" y="1" width="1" height="1" fill="#616161"/><rect x="16" y="1" width="1" height="1" fill="#6e6e6e"/><rect x="17" y="1" width="1" height="1" fill="#6a6a6a"/><rect x="18" y="1" width="1" height="1" fill="#a9a9a9"/><rect x="19" y="1" width="1" height="1" fill="#828282"/><rect x="20" y="1" width="1" height="1" fill="#9a9a9a"/><rect x="21" y="1" width="1" height="1" fill="#c0c0c0"/><rect x="22" y="1" width="1" height="1" fill="#bdbdbd"/><rect x="23" y="1" width="1" height="1" fill="#aeaeae"/><rect x="24" y="1" width="1" height="1" fill="#595959"/><rect x="25" y="1" width="1" height="1" fill="#6c6c6c"/><rect x="26" y="1" width="1" height="1" fill="#8b8b8b"/><rect x="27" y="1" width="1" height="1" fill="#797979"/><rect x="28" y="1" width="1" height="1" fill="#4d4d4d"/><rect x="0" y="2" width="1" height="1" fill="#afafaf"/><rect x="1" y="2" width="1" height="1" fill="#b6b6b6"/><rect x="2" y="2" width="1" height="1" fill="#626262"/><rect x="3" y="2" width="1" height="1" fill="#6e6e6e"/><rect x="4" y="2" width="1" height="1" fill="#909090"/><rect x="5" y="2" width="1" height="1" fill="#5f5f5f"/><rect x="6" y="2" width="1" height="1" fill="#868686"/><rect x="7" y="2" width="1" height="1" fill="#8c8c8c"/><rect x="8" y="2" width="1" height="1" fill="#4b4b4b"/><rect x="9" y="2" width="1" height="1" fill="#4f4f4f"/><rect x="10" y="2" width="1" height="1" fill="#949494"/><rect x="11" y="2" width="1" height="1" fill="#aaaaaa"/><rect x="12" y="2" width="1" height="1" fill="#848484"/><rect x="13" y="2" width="1" height="1" fill="#7f7f7f"/><rect x="14" y="2" width="1" height="1" fill="#2c2c2c"/><rect x="15" y="2" width="1" height="1" fill="#6b6b6b"/><rect x="16" y="2" width="1" height="1" fill="#838383"/><rect x="17" y="2" width="1" height="1" fill="#818181"/><rect x="18" y="2" width="1" height="1" fill="#868686"/><rect x="19" y="2" width="1" height="1" fill="#999999"/><rect x="20" y="2" width="1" height="1" fill="#333333"/><rect x="21" y="2" width="1" height="1" fill="#484848"/><rect x="22" y="2" width="1" height="1" fill="#989898"/><rect x="23" y="2" width="1" height="1" fill="#909090"/><rect x="24" y="2" width="1" height="1" fill="#848484"/><rect x="25" y="2" width="1" height="1" fill="#707070"/><rect x="26" y="2" width="1" height="1" fill="#a0a0a0"/><rect x="27" y="2" width="1" height="1" fill="#7b7b7b"/><rect x="28" y="2" width="1" height="1" fill="#656565"/><rect x="0" y="3" width="1" height="1" fill="#a9a9a9"/><rect x="1" y="3" width="1" height="1" fill="#9f9f9f"/><rect x="2" y="3" width="1" height="1" fill="#545454"/><rect x="3" y="3" width="1" height="1" fill="#606060"/><rect x="4" y="3" width="1" height="1" fill="#7e7e7e"/><rect x="5" y="3" width="1" height="1" fill="#636363"/><rect x="6" y="3" width="1" height="1" fill="#858585"/><rect x="7" y="3" width="1" height="1" fill="#a1a1a1"/><rect x="8" y="3" width="1" height="1" fill="#616161"/><rect x="9" y="3" width="1" height="1" fill="#525252"/><rect x="10" y="3" width="1" height="1" fill="#888888"/><rect x="11" y="3" width="1" height="1" fill="#848484"/><rect x="12" y="3" width="1" height="1" fill="#787878"/><rect x="13" y="3" width="1" height="1" fill="#868686"/><rect x="14" y="3" width="1" height="1" fill="#474747"/><rect x="15" y="3" width="1" height="1" fill="#1d1d1d"/><rect x="16" y="3" width="1" height="1" fill="#818181"/><rect x="17" y="3" width="1" height="1" fill="#717171"/><rect x="18" y="3" width="1" height="1" fill="#a5a5a5"/><rect x="19" y="3" width="1" height="1" fill="#8f8f8f"/><rect x="20" y="3" width="1" height="1" fill="#4a4a4a"/><rect x="21" y="3" width="1" height="1" fill="#6e6e6e"/><rect x="22" y="3" width="1" height="1" fill="#7c7c7c"/><rect x="23" y="3" width="1" height="1" fill="#7b7b7b"/><rect x="24" y="3" width="1" height="1" fill="#666666"/><rect x="25" y="3" width="1" height="1" fill="#545454"/><rect x="26" y="3" width="1" height="1" fill="#656565"/><rect x="27" y="3" width="1" height="1" fill="#8d8d8d"/><rect x="28" y="3" width="1" height="1" fill="#7a7a7a"/><rect x="0" y="4" width="1" height="1" fill="#7b7b7b"/><rect x="1" y="4" width="1" height="1" fill="#828282"/><rect x="2" y="4" width="1" height="1" fill="#7f7f7f"/><rect x="3" y="4" width="1" height="1" fill="#666666"/><rect x="4" y="4" width="1" height="1" fill="#8a8a8a"/><rect x="5" y="4" width="1" height="1" fill="#979797"/><rect x="6" y="4" width="1" height="1" fill="#878787"/><rect x="7" y="4" width="1" height="1" fill="#919191"/><rect x="8" y="4" width="1" height="1" fill="#a0a0a0"/><rect x="9" y="4" width="1" height="1" fill="#909090"/><rect x="10" y="4" width="1" height="1" fill="#676767"/><rect x="11" y="4" width="1" height="1" fill="#848484"/><rect x="12" y="4" width="1" height="1" fill="#909090"/><rect x="13" y="4" width="1" height="1" fill="#717171"/><rect x="14" y="4" width="1" height="1" fill="#b0b0b0"/><rect x="15" y="4" width="1" height="1" fill="#adadad"/><rect x="16" y="4" width="1" height="1" fill="#868686"/><rect x="17" y="4" width="1" height="1" fill="#7d7d7d"/><rect x="18" y="4" width="1" height="1" fill="#5d5d5d"/><rect x="19" y="4" width="1" height="1" fill="#6c6c6c"/><rect x="20" y="4" width="1" height="1" fill="#3f3f3f"/><rect x="21" y="4" width="1" height="1" fill="#717171"/><rect x="22" y="4" width="1" height="1" fill="#6e6e6e"/><rect x="23" y="4" width="1" height="1" fill="#4e4e4e"/><rect x="24" y="4" width="1" height="1" fill="#989898"/><rect x="25" y="4" width="1" height="1" fill="#8f8f8f"/><rect x="26" y="4" width="1" height="1" fill="#717171"/><rect x="27" y="4" width="1" height="1" fill="#b4b4b4"/><rect x="28" y="4" width="1" height="1" fill="#949494"/><rect x="0" y="5" width="1" height="1" fill="#c2c2c2"/><rect x="1" y="5" width="1" height="1" fill="#878787"/><rect x="2" y="5" width="1" height="1" fill="#7d7d7d"/><rect x="3" y="5" width="1" height="1" fill="#7b7b7b"/><rect x="4" y="5" width="1" height="1" fill="#959595"/><rect x="5" y="5" width="1" height="1" fill="#949494"/><rect x="6" y="5" width="1" height="1" fill="#818181"/><rect x="7" y="5" width="1" height="1" fill="#545454"/><rect x="8" y="5" width="1" height="1" fill="#777777"/><rect x="9" y="5" width="1" height="1" fill="#747474"/><rect x="10" y="5" width="1" height="1" fill="#595959"/><rect x="11" y="5" width="1" height="1" fill="#595959"/><rect x="12" y="5" width="1" height="1" fill="#7d7d7d"/><rect x="13" y="5" width="1" height="1" fill="#7b7b7b"/><rect x="14" y="5" width="1" height="1" fill="#a9a9a9"/><rect x="15" y="5" width="1" height="1" fill="#9c9c9c"/><rect x="16" y="5" width="1" height="1" fill="#7e7e7e"/><rect x="17" y="5" width="1" height="1" fill="#979797"/><rect x="18" y="5" width="1" height="1" fill="#838383"/><rect x="19" y="5" width="1" height="1" fill="#777777"/><rect x="20" y="5" width="1" height="1" fill="#555555"/><rect x="21" y="5" width="1" height="1" fill="#777777"/><rect x="22" y="5" width="1" height="1" fill="#595959"/><rect x="23" y="5" width="1" height="1" fill="#707070"/><rect x="24" y="5" width="1" height="1" fill="#939393"/><rect x="25" y="5" width="1" height="1" fill="#7a7a7a"/><rect x="26" y="5" width="1" height="1" fill="#a2a2a2"/><rect x="27" y="5" width="1" height="1" fill="#7f7f7f"/><rect x="28" y="5" width="1" height="1" fill="#979797"/><rect x="0" y="6" width="1" height="1" fill="#8b8b8b"/><rect x="1" y="6" width="1" height="1" fill="#6b6b6b"/><rect x="2" y="6" width="1" height="1" fill="#848484"/><rect x="3" y="6" width="1" height="1" fill="#686868"/><rect x="4" y="6" width="1" height="1" fill="#b5b5b5"/><rect x="5" y="6" width="1" height="1" fill="#929292"/><rect x="6" y="6" width="1" height="1" fill="#6c6c6c"/><rect x="7" y="6" width="1" height="1" fill="#747474"/><rect x="8" y="6" width="1" height="1" fill="#656565"/><rect x="9" y="6" width="1" height="1" fill="#6f6f6f"/><rect x="10" y="6" width="1" height="1" fill="#888888"/><rect x="11" y="6" width="1" height="1" fill="#9e9e9e"/><rect x="12" y="6" width="1" height="1" fill="#7b7b7b"/><rect x="13" y="6" width="1" height="1" fill="#7f7f7f"/><rect x="14" y="6" width="1" height="1" fill="#404040"/><rect x="15" y="6" width="1" height="1" fill="#878787"/><rect x="16" y="6" width="1" height="1" fill="#6b6b6b"/><rect x="17" y="6" width="1" height="1" fill="#4a4a4a"/><rect x="18" y="6" width="1" height="1" fill="#747474"/><rect x="19" y="6" width="1" height="1" fill="#7b7b7b"/><rect x="20" y="6" width="1" height="1" fill="#9e9e9e"/><rect x="21" y="6" width="1" height="1" fill="#777777"/><rect x="22" y="6" width="1" height="1" fill="#9f9f9f"/><rect x="23" y="6" width="1" height="1" fill="#808080"/><rect x="24" y="6" width="1" height="1" fill="#848484"/><rect x="25" y="6" width="1" height="1" fill="#565656"/><rect x="26" y="6" width="1" height="1" fill="#919191"/><rect x="27" y="6" width="1" height="1" fill="#7e7e7e"/><rect x="28" y="6" width="1" height="1" fill="#6a6a6a"/><rect x="0" y="7" width="1" height="1" fill="#9b9b9b"/><rect x="1" y="7" width="1" height="1" fill="#989898"/><rect x="2" y="7" width="1" height="1" fill="#949494"/><rect x="3" y="7" width="1" height="1" fill="#888888"/><rect x="4" y="7" width="1" height="1" fill="#949494"/><rect x="5" y="7" width="1" height="1" fill="#808080"/><rect x="6" y="7" width="1" height="1" fill="#636363"/><rect x="7" y="7" width="1" height="1" fill="#636363"/><rect x="8" y="7" width="1" height="1" fill="#5c5c5c"/><rect x="9" y="7" width="1" height="1" fill="#757575"/><rect x="10" y="7" width="1" height="1" fill="#979797"/><rect x="11" y="7" width="1" height="1" fill="#8d8d8d"/><rect x="12" y="7" width="1" height="1" fill="#7e7e7e"/><rect x="13" y="7" width="1" height="1" fill="#797979"/><rect x="14" y="7" width="1" height="1" fill="#767676"/><rect x="15" y="7" width="1" height="1" fill="#808080"/><rect x="16" y="7" width="1" height="1" fill="#7b7b7b"/><rect x="17" y="7" width="1" height="1" fill="#5e5e5e"/><rect x="18" y="7" width="1" height="1" fill="#575757"/><rect x="19" y="7" width="1" height="1" fill="#8c8c8c"/><rect x="20" y="7" width="1" height="1" fill="#8c8c8c"/><rect x="21" y="7" width="1" height="1" fill="#9e9e9e"/><rect x="22" y="7" width="1" height="1" fill="#656565"/><rect x="23" y="7" width="1" height="1" fill="#7d7d7d"/><rect x="24" y="7" width="1" height="1" fill="#595959"/><rect x="25" y="7" width="1" height="1" fill="#3f3f3f"/><rect x="26" y="7" width="1" height="1" fill="#7c7c7c"/><rect x="27" y="7" width="1" height="1" fill="#929292"/><rect x="28" y="7" width="1" height="1" fill="#929292"/><rect x="0" y="8" width="1" height="1" fill="#7b7b7b"/><rect x="1" y="8" width="1" height="1" fill="#4f4f4f"/><rect x="2" y="8" width="1" height="1" fill="#757575"/><rect x="3" y="8" width="1" height="1" fill="#989898"/><rect x="4" y="8" width="1" height="1" fill="#838383"/><rect x="5" y="8" width="1" height="1" fill="#757575"/><rect x="6" y="8" width="1" height="1" fill="#595959"/><rect x="7" y="8" width="1" height="1" fill="#7f7f7f"/><rect x="8" y="8" width="1" height="1" fill="#9d9d9d"/><rect x="9" y="8" width="1" height="1" fill="#999999"/><rect x="10" y="8" width="1" height="1" fill="#949494"/><rect x="11" y="8" width="1" height="1" fill="#a3a3a3"/><rect x="12" y="8" width="1" height="1" fill="#757575"/><rect x="13" y="8" width="1" height="1" fill="#5d5d5d"/><rect x="14" y="8" width="1" height="1" fill="#646464"/><rect x="15" y="8" width="1" height="1" fill="#8b8b8b"/><rect x="16" y="8" width="1" height="1" fill="#6b6b6b"/><rect x="17" y="8" width="1" height="1" fill="#626262"/><rect x="18" y="8" width="1" height="1" fill="#c8c8c8"/><rect x="19" y="8" width="1" height="1" fill="#adadad"/><rect x="20" y="8" width="1" height="1" fill="#6b6b6b"/><rect x="21" y="8" width="1" height="1" fill="#676767"/><rect x="22" y="8" width="1" height="1" fill="#a4a4a4"/><rect x="23" y="8" width="1" height="1" fill="#b6b6b6"/><rect x="24" y="8" width="1" height="1" fill="#646464"/><rect x="25" y="8" width="1" height="1" fill="#8d8d8d"/><rect x="26" y="8" width="1" height="1" fill="#ababab"/><rect x="27" y="8" width="1" height="1" fill="#9e9e9e"/><rect x="28" y="8" width="1" height="1" fill="#c0c0c0"/><rect x="0" y="9" width="1" height="1" fill="#7e7e7e"/><rect x="1" y="9" width="1" height="1" fill="#5b5b5b"/><rect x="2" y="9" width="1" height="1" fill="#8c8c8c"/><rect x="3" y="9" width="1" height="1" fill="#7b7b7b"/><rect x="4" y="9" width="1" height="1" fill="#7a7a7a"/><rect x="5" y="9" width="1" height="1" fill="#8a8a8a"/><rect x="6" y="9" width="1" height="1" fill="#7a7a7a"/><rect x="7" y="9" width="1" height="1" fill="#787878"/><rect x="8" y="9" width="1" height="1" fill="#8b8b8b"/><rect x="9" y="9" width="1" height="1" fill="#929292"/><rect x="10" y="9" width="1" height="1" fill="#848484"/><rect x="11" y="9" width="1" height="1" fill="#b0b0b0"/><rect x="12" y="9" width="1" height="1" fill="#606060"/><rect x="13" y="9" width="1" height="1" fill="#535353"/><rect x="14" y="9" width="1" height="1" fill="#787878"/><rect x="15" y="9" width="1" height="1" fill="#767676"/><rect x="16" y="9" width="1" height="1" fill="#717171"/><rect x="17" y="9" width="1" height="1" fill="#757575"/><rect x="18" y="9" width="1" height="1" fill="#a0a0a0"/><rect x="19" y="9" width="1" height="1" fill="#c9c9c9"/><rect x="20" y="9" width="1" height="1" fill="#7c7c7c"/><rect x="21" y="9" width="1" height="1" fill="#626262"/><rect x="22" y="9" width="1" height="1" fill="#7f7f7f"/><rect x="23" y="9" width="1" height="1" fill="#8c8c8c"/><rect x="24" y="9" width="1" height="1" fill="#5d5d5d"/><rect x="25" y="9" width="1" height="1" fill="#6e6e6e"/><rect x="26" y="9" width="1" height="1" fill="#898989"/><rect x="27" y="9" width="1" height="1" fill="#6b6b6b"/><rect x="28" y="9" width="1" height="1" fill="#bababa"/><rect x="0" y="10" width="1" height="1" fill="#191919"/><rect x="1" y="10" width="1" height="1" fill="#454545"/><rect x="2" y="10" width="1" height="1" fill="#585858"/><rect x="3" y="10" width="1" height="1" fill="#616161"/><rect x="4" y="10" width="1" height="1" fill="#787878"/><rect x="5" y="10" width="1" height="1" fill="#7d7d7d"/><rect x="6" y="10" width="1" height="1" fill="#8e8e8e"/><rect x="7" y="10" width="1" height="1" fill="#868686"/><rect x="8" y="10" width="1" height="1" fill="#727272"/><rect x="9" y="10" width="1" height="1" fill="#6d6d6d"/><rect x="10" y="10" width="1" height="1" fill="#989898"/><rect x="11" y="10" width="1" height="1" fill="#aaaaaa"/><rect x="12" y="10" width="1" height="1" fill="#727272"/><rect x="13" y="10" width="1" height="1" fill="#6a6a6a"/><rect x="14" y="10" width="1" height="1" fill="#565656"/><rect x="15" y="10" width="1" height="1" fill="#404040"/><rect x="16" y="10" width="1" height="1" fill="#848484"/><rect x="17" y="10" width="1" height="1" fill="#7e7e7e"/><rect x="18" y="10" width="1" height="1" fill="#262626"/><rect x="19" y="10" width="1" height="1" fill="#565656"/><rect x="20" y="10" width="1" height="1" fill="#b1b1b1"/><rect x="21" y="10" width="1" height="1" fill="#9c9c9c"/><rect x="22" y="10" width="1" height="1" fill="#585858"/><rect x="23" y="10" width="1" height="1" fill="#393939"/><rect x="24" y="10" width="1" height="1" fill="#818181"/><rect x="25" y="10" width="1" height="1" fill="#939393"/><rect x="26" y="10" width="1" height="1" fill="#a1a1a1"/><rect x="27" y="10" width="1" height="1" fill="#acacac"/><rect x="28" y="10" width="1" height="1" fill="#979797"/><rect x="0" y="11" width="1" height="1" fill="#494949"/><rect x="1" y="11" width="1" height="1" fill="#2d2d2d"/><rect x="2" y="11" width="1" height="1" fill="#818181"/><rect x="3" y="11" width="1" height="1" fill="#7c7c7c"/><rect x="4" y="11" width="1" height="1" fill="#6b6b6b"/><rect x="5" y="11" width="1" height="1" fill="#808080"/><rect x="6" y="11" width="1" height="1" fill="#5d5d5d"/><rect x="7" y="11" width="1" height="1" fill="#757575"/><rect x="8" y="11" width="1" height="1" fill="#727272"/><rect x="9" y="11" width="1" height="1" fill="#545454"/><rect x="10" y="11" width="1" height="1" fill="#8f8f8f"/><rect x="11" y="11" width="1" height="1" fill="#cbcbcb"/><rect x="12" y="11" width="1" height="1" fill="#828282"/><rect x="13" y="11" width="1" height="1" fill="#969696"/><rect x="14" y="11" width="1" height="1" fill="#353535"/><rect x="15" y="11" width="1" height="1" fill="#606060"/><rect x="16" y="11" width="1" height="1" fill="#b6b6b6"/><rect x="17" y="11" width="1" height="1" fill="#b5b5b5"/><rect x="18" y="11" width="1" height="1" fill="#474747"/><rect x="19" y="11" width="1" height="1" fill="#505050"/><rect x="20" y="11" width="1" height="1" fill="#969696"/><rect x="21" y="11" width="1" height="1" fill="#ababab"/><rect x="22" y="11" width="1" height="1" fill="#7d7d7d"/><rect x="23" y="11" width="1" height="1" fill="#6b6b6b"/><rect x="24" y="11" width="1" height="1" fill="#656565"/><rect x="25" y="11" width="1" height="1" fill="#8b8b8b"/><rect x="26" y="11" width="1" height="1" fill="#939393"/><rect x="27" y="11" width="1" height="1" fill="#a7a7a7"/><rect x="28" y="11" width="1" height="1" fill="#818181"/><rect x="0" y="12" width="1" height="1" fill="#717171"/><rect x="1" y="12" width="1" height="1" fill="#686868"/><rect x="2" y="12" width="1" height="1" fill="#444444"/><rect x="3" y="12" width="1" height="1" fill="#525252"/><rect x="4" y="12" width="1" height="1" fill="#b9b9b9"/><rect x="5" y="12" width="1" height="1" fill="#909090"/><rect x="6" y="12" width="1" height="1" fill="#959595"/><rect x="7" y="12" width="1" height="1" fill="#a3a3a3"/><rect x="8" y="12" width="1" height="1" fill="#7a7a7a"/><rect x="9" y="12" width="1" height="1" fill="#6d6d6d"/><rect x="10" y="12" width="1" height="1" fill="#797979"/><rect x="11" y="12" width="1" height="1" fill="#7a7a7a"/><rect x="12" y="12" width="1" height="1" fill="#8b8b8b"/><rect x="13" y="12" width="1" height="1" fill="#8e8e8e"/><rect x="14" y="12" width="1" height="1" fill="#b9b9b9"/><rect x="15" y="12" width="1" height="1" fill="#7b7b7b"/><rect x="16" y="12" width="1" height="1" fill="#515151"/><rect x="17" y="12" width="1" height="1" fill="#4a4a4a"/><rect x="18" y="12" width="1" height="1" fill="#535353"/><rect x="19" y="12" width="1" height="1" fill="#636363"/><rect x="20" y="12" width="1" height="1" fill="#959595"/><rect x="21" y="12" width="1" height="1" fill="#898989"/><rect x="22" y="12" width="1" height="1" fill="#8b8b8b"/><rect x="23" y="12" width="1" height="1" fill="#969696"/><rect x="24" y="12" width="1" height="1" fill="#838383"/><rect x="25" y="12" width="1" height="1" fill="#9a9a9a"/><rect x="26" y="12" width="1" height="1" fill="#2c2c2c"/><rect x="27" y="12" width="1" height="1" fill="#2d2d2d"/><rect x="28" y="12" width="1" height="1" fill="#888888"/><rect x="0" y="13" width="1" height="1" fill="#4a4a4a"/><rect x="1" y="13" width="1" height="1" fill="#595959"/><rect x="2" y="13" width="1" height="1" fill="#686868"/><rect x="3" y="13" width="1" height="1" fill="#4c4c4c"/><rect x="4" y="13" width="1" height="1" fill="#979797"/><rect x="5" y="13" width="1" height="1" fill="#a7a7a7"/><rect x="6" y="13" width="1" height="1" fill="#878787"/><rect x="7" y="13" width="1" height="1" fill="#a1a1a1"/><rect x="8" y="13" width="1" height="1" fill="#4c4c4c"/><rect x="9" y="13" width="1" height="1" fill="#6f6f6f"/><rect x="10" y="13" width="1" height="1" fill="#878787"/><rect x="11" y="13" width="1" height="1" fill="#828282"/><rect x="12" y="13" width="1" height="1" fill="#a7a7a7"/><rect x="13" y="13" width="1" height="1" fill="#787878"/><rect x="14" y="13" width="1" height="1" fill="#ababab"/><rect x="15" y="13" width="1" height="1" fill="#979797"/><rect x="16" y="13" width="1" height="1" fill="#575757"/><rect x="17" y="13" width="1" height="1" fill="#2b2b2b"/><rect x="18" y="13" width="1" height="1" fill="#878787"/><rect x="19" y="13" width="1" height="1" fill="#8c8c8c"/><rect x="20" y="13" width="1" height="1" fill="#909090"/><rect x="21" y="13" width="1" height="1" fill="#8f8f8f"/><rect x="22" y="13" width="1" height="1" fill="#bababa"/><rect x="23" y="13" width="1" height="1" fill="#909090"/><rect x="24" y="13" width="1" height="1" fill="#8a8a8a"/><rect x="25" y="13" width="1" height="1" fill="#868686"/><rect x="26" y="13" width="1" height="1" fill="#3f3f3f"/><rect x="27" y="13" width="1" height="1" fill="#3d3d3d"/><rect x="28" y="13" width="1" height="1" fill="#818181"/><rect x="0" y="14" width="1" height="1" fill="#a6a6a6"/><rect x="1" y="14" width="1" height="1" fill="#818181"/><rect x="2" y="14" width="1" height="1" fill="#c7c7c7"/><rect x="3" y="14" width="1" height="1" fill="#d9d9d9"/><rect x="4" y="14" width="1" height="1" fill="#4e4e4e"/><rect x="5" y="14" width="1" height="1" fill="#727272"/><rect x="6" y="14" width="1" height="1" fill="#929292"/><rect x="7" y="14" width="1" height="1" fill="#585858"/><rect x="8" y="14" width="1" height="1" fill="#676767"/><rect x="9" y="14" width="1" height="1" fill="#686868"/><rect x="10" y="14" width="1" height="1" fill="#707070"/><rect x="11" y="14" width="1" height="1" fill="#9a9a9a"/><rect x="12" y="14" width="1" height="1" fill="#4c4c4c"/><rect x="13" y="14" width="1" height="1" fill="#777777"/><rect x="14" y="14" width="1" height="1" fill="#b3b3b3"/><rect x="15" y="14" width="1" height="1" fill="#7b7b7b"/><rect x="16" y="14" width="1" height="1" fill="#5f5f5f"/><rect x="17" y="14" width="1" height="1" fill="#424242"/><rect x="18" y="14" width="1" height="1" fill="#8f8f8f"/><rect x="19" y="14" width="1" height="1" fill="#737373"/><rect x="20" y="14" width="1" height="1" fill="#666666"/><rect x="21" y="14" width="1" height="1" fill="#6c6c6c"/><rect x="22" y="14" width="1" height="1" fill="#888888"/><rect x="23" y="14" width="1" height="1" fill="#787878"/><rect x="24" y="14" width="1" height="1" fill="#676767"/><rect x="25" y="14" width="1" height="1" fill="#5d5d5d"/><rect x="26" y="14" width="1" height="1" fill="#505050"/><rect x="27" y="14" width="1" height="1" fill="#393939"/><rect x="28" y="14" width="1" height="1" fill="#989898"/><rect x="0" y="15" width="1" height="1" fill="#646464"/><rect x="1" y="15" width="1" height="1" fill="#7e7e7e"/><rect x="2" y="15" width="1" height="1" fill="#e1e1e1"/><rect x="3" y="15" width="1" height="1" fill="#c0c0c0"/><rect x="4" y="15" width="1" height="1" fill="#494949"/><rect x="5" y="15" width="1" height="1" fill="#646464"/><rect x="6" y="15" width="1" height="1" fill="#5f5f5f"/><rect x="7" y="15" width="1" height="1" fill="#535353"/><rect x="8" y="15" width="1" height="1" fill="#6d6d6d"/><rect x="9" y="15" width="1" height="1" fill="#888888"/><rect x="10" y="15" width="1" height="1" fill="#989898"/><rect x="11" y="15" width="1" height="1" fill="#909090"/><rect x="12" y="15" width="1" height="1" fill="#5d5d5d"/><rect x="13" y="15" width="1" height="1" fill="#5a5a5a"/><rect x="14" y="15" width="1" height="1" fill="#b1b1b1"/><rect x="15" y="15" width="1" height="1" fill="#9d9d9d"/><rect x="16" y="15" width="1" height="1" fill="#535353"/><rect x="17" y="15" width="1" height="1" fill="#3e3e3e"/><rect x="18" y="15" width="1" height="1" fill="#686868"/><rect x="19" y="15" width="1" height="1" fill="#adadad"/><rect x="20" y="15" width="1" height="1" fill="#575757"/><rect x="21" y="15" width="1" height="1" fill="#6a6a6a"/><rect x="22" y="15" width="1" height="1" fill="#828282"/><rect x="23" y="15" width="1" height="1" fill="#7b7b7b"/><rect x="24" y="15" width="1" height="1" fill="#626262"/><rect x="25" y="15" width="1" height="1" fill="#4e4e4e"/><rect x="26" y="15" width="1" height="1" fill="#3b3b3b"/><rect x="27" y="15" width="1" height="1" fill="#6d6d6d"/><rect x="28" y="15" width="1" height="1" fill="#898989"/><rect x="0" y="16" width="1" height="1" fill="#919191"/><rect x="1" y="16" width="1" height="1" fill="#636363"/><rect x="2" y="16" width="1" height="1" fill="#656565"/><rect x="3" y="16" width="1" height="1" fill="#6f6f6f"/><rect x="4" y="16" width="1" height="1" fill="#929292"/><rect x="5" y="16" width="1" height="1" fill="#6b6b6b"/><rect x="6" y="16" width="1" height="1" fill="#9f9f9f"/><rect x="7" y="16" width="1" height="1" fill="#9b9b9b"/><rect x="8" y="16" width="1" height="1" fill="#525252"/><rect x="9" y="16" width="1" height="1" fill="#686868"/><rect x="10" y="16" width="1" height="1" fill="#666666"/><rect x="11" y="16" width="1" height="1" fill="#686868"/><rect x="12" y="16" width="1" height="1" fill="#888888"/><rect x="13" y="16" width="1" height="1" fill="#575757"/><rect x="14" y="16" width="1" height="1" fill="#868686"/><rect x="15" y="16" width="1" height="1" fill="#767676"/><rect x="16" y="16" width="1" height="1" fill="#565656"/><rect x="17" y="16" width="1" height="1" fill="#696969"/><rect x="18" y="16" width="1" height="1" fill="#4e4e4e"/><rect x="19" y="16" width="1" height="1" fill="#393939"/><rect x="20" y="16" width="1" height="1" fill="#b2b2b2"/><rect x="21" y="16" width="1" height="1" fill="#868686"/><rect x="22" y="16" width="1" height="1" fill="#6b6b6b"/><rect x="23" y="16" width="1" height="1" fill="#9e9e9e"/><rect x="24" y="16" width="1" height="1" fill="#818181"/><rect x="25" y="16" width="1" height="1" fill="#8b8b8b"/><rect x="26" y="16" width="1" height="1" fill="#636363"/><rect x="27" y="16" width="1" height="1" fill="#808080"/><rect x="28" y="16" width="1" height="1" fill="#858585"/><rect x="0" y="17" width="1" height="1" fill="#8d8d8d"/><rect x="1" y="17" width="1" height="1" fill="#828282"/><rect x="2" y="17" width="1" height="1" fill="#808080"/><rect x="3" y="17" width="1" height="1" fill="#5f5f5f"/><rect x="4" y="17" width="1" height="1" fill="#6e6e6e"/><rect x="5" y="17" width="1" height="1" fill="#646464"/><rect x="6" y="17" width="1" height="1" fill="#a9a9a9"/><rect x="7" y="17" width="1" height="1" fill="#878787"/><rect x="8" y="17" width="1" height="1" fill="#4c4c4c"/><rect x="9" y="17" width="1" height="1" fill="#4e4e4e"/><rect x="10" y="17" width="1" height="1" fill="#6f6f6f"/><rect x="11" y="17" width="1" height="1" fill="#606060"/><rect x="12" y="17" width="1" height="1" fill="#838383"/><rect x="13" y="17" width="1" height="1" fill="#7d7d7d"/><rect x="14" y="17" width="1" height="1" fill="#7e7e7e"/><rect x="15" y="17" width="1" height="1" fill="#767676"/><rect x="16" y="17" width="1" height="1" fill="#717171"/><rect x="17" y="17" width="1" height="1" fill="#686868"/><rect x="18" y="17" width="1" height="1" fill="#434343"/><rect x="19" y="17" width="1" height="1" fill="#454545"/><rect x="20" y="17" width="1" height="1" fill="#a1a1a1"/><rect x="21" y="17" width="1" height="1" fill="#747474"/><rect x="22" y="17" width="1" height="1" fill="#797979"/><rect x="23" y="17" width="1" height="1" fill="#747474"/><rect x="24" y="17" width="1" height="1" fill="#888888"/><rect x="25" y="17" width="1" height="1" fill="#5d5d5d"/><rect x="26" y="17" width="1" height="1" fill="#656565"/><rect x="27" y="17" width="1" height="1" fill="#6d6d6d"/><rect x="28" y="17" width="1" height="1" fill="#7b7b7b"/><rect x="0" y="18" width="1" height="1" fill="#808080"/><rect x="1" y="18" width="1" height="1" fill="#666666"/><rect x="2" y="18" width="1" height="1" fill="#6f6f6f"/><rect x="3" y="18" width="1" height="1" fill="#434343"/><rect x="4" y="18" width="1" height="1" fill="#454545"/><rect x="5" y="18" width="1" height="1" fill="#7b7b7b"/><rect x="6" y="18" width="1" height="1" fill="#717171"/><rect x="7" y="18" width="1" height="1" fill="#727272"/><rect x="8" y="18" width="1" height="1" fill="#6b6b6b"/><rect x="9" y="18" width="1" height="1" fill="#727272"/><rect x="10" y="18" width="1" height="1" fill="#444444"/><rect x="11" y="18" width="1" height="1" fill="#6b6b6b"/><rect x="12" y="18" width="1" height="1" fill="#818181"/><rect x="13" y="18" width="1" height="1" fill="#9c9c9c"/><rect x="14" y="18" width="1" height="1" fill="#585858"/><rect x="15" y="18" width="1" height="1" fill="#333333"/><rect x="16" y="18" width="1" height="1" fill="#747474"/><rect x="17" y="18" width="1" height="1" fill="#a0a0a0"/><rect x="18" y="18" width="1" height="1" fill="#5c5c5c"/><rect x="19" y="18" width="1" height="1" fill="#575757"/><rect x="20" y="18" width="1" height="1" fill="#878787"/><rect x="21" y="18" width="1" height="1" fill="#7b7b7b"/><rect x="22" y="18" width="1" height="1" fill="#959595"/><rect x="23" y="18" width="1" height="1" fill="#a0a0a0"/><rect x="24" y="18" width="1" height="1" fill="#828282"/><rect x="25" y="18" width="1" height="1" fill="#9a9a9a"/><rect x="26" y="18" width="1" height="1" fill="#676767"/><rect x="27" y="18" width="1" height="1" fill="#888888"/><rect x="28" y="18" width="1" height="1" fill="#9b9b9b"/><rect x="0" y="19" width="1" height="1" fill="#8d8d8d"/><rect x="1" y="19" width="1" height="1" fill="#818181"/><rect x="2" y="19" width="1" height="1" fill="#606060"/><rect x="3" y="19" width="1" height="1" fill="#606060"/><rect x="4" y="19" width="1" height="1" fill="#636363"/><rect x="5" y="19" width="1" height="1" fill="#585858"/><rect x="6" y="19" width="1" height="1" fill="#686868"/><rect x="7" y="19" width="1" height="1" fill="#5e5e5e"/><rect x="8" y="19" width="1" height="1" fill="#868686"/><rect x="9" y="19" width="1" height="1" fill="#737373"/><rect x="10" y="19" width="1" height="1" fill="#525252"/><rect x="11" y="19" width="1" height="1" fill="#383838"/><rect x="12" y="19" width="1" height="1" fill="#8a8a8a"/><rect x="13" y="19" width="1" height="1" fill="#838383"/><rect x="14" y="19" width="1" height="1" fill="#434343"/><rect x="15" y="19" width="1" height="1" fill="#424242"/><rect x="16" y="19" width="1" height="1" fill="#636363"/><rect x="17" y="19" width="1" height="1" fill="#969696"/><rect x="18" y="19" width="1" height="1" fill="#5d5d5d"/><rect x="19" y="19" width="1" height="1" fill="#8d8d8d"/><rect x="20" y="19" width="1" height="1" fill="#828282"/><rect x="21" y="19" width="1" height="1" fill="#808080"/><rect x="22" y="19" width="1" height="1" fill="#b9b9b9"/><rect x="23" y="19" width="1" height="1" fill="#a1a1a1"/><rect x="24" y="19" width="1" height="1" fill="#828282"/><rect x="25" y="19" width="1" height="1" fill="#787878"/><rect x="26" y="19" width="1" height="1" fill="#5b5b5b"/><rect x="27" y="19" width="1" height="1" fill="#818181"/><rect x="28" y="19" width="1" height="1" fill="#8d8d8d"/><rect x="0" y="20" width="1" height="1" fill="#9c9c9c"/><rect x="1" y="20" width="1" height="1" fill="#777777"/><rect x="2" y="20" width="1" height="1" fill="#4b4b4b"/><rect x="3" y="20" width="1" height="1" fill="#3b3b3b"/><rect x="4" y="20" width="1" height="1" fill="#7b7b7b"/><rect x="5" y="20" width="1" height="1" fill="#505050"/><rect x="6" y="20" width="1" height="1" fill="#888888"/><rect x="7" y="20" width="1" height="1" fill="#929292"/><rect x="8" y="20" width="1" height="1" fill="#868686"/><rect x="9" y="20" width="1" height="1" fill="#5c5c5c"/><rect x="10" y="20" width="1" height="1" fill="#8f8f8f"/><rect x="11" y="20" width="1" height="1" fill="#6f6f6f"/><rect x="12" y="20" width="1" height="1" fill="#808080"/><rect x="13" y="20" width="1" height="1" fill="#767676"/><rect x="14" y="20" width="1" height="1" fill="#a3a3a3"/><rect x="15" y="20" width="1" height="1" fill="#acacac"/><rect x="16" y="20" width="1" height="1" fill="#878787"/><rect x="17" y="20" width="1" height="1" fill="#848484"/><rect x="18" y="20" width="1" height="1" fill="#838383"/><rect x="19" y="20" width="1" height="1" fill="#b7b7b7"/><rect x="20" y="20" width="1" height="1" fill="#848484"/><rect x="21" y="20" width="1" height="1" fill="#686868"/><rect x="22" y="20" width="1" height="1" fill="#595959"/><rect x="23" y="20" width="1" height="1" fill="#6d6d6d"/><rect x="24" y="20" width="1" height="1" fill="#888888"/><rect x="25" y="20" width="1" height="1" fill="#949494"/><rect x="26" y="20" width="1" height="1" fill="#6c6c6c"/><rect x="27" y="20" width="1" height="1" fill="#656565"/><rect x="28" y="20" width="1" height="1" fill="#6b6b6b"/><rect x="0" y="21" width="1" height="1" fill="#5c5c5c"/><rect x="1" y="21" width="1" height="1" fill="#8e8e8e"/><rect x="2" y="21" width="1" height="1" fill="#373737"/><rect x="3" y="21" width="1" height="1" fill="#5e5e5e"/><rect x="4" y="21" width="1" height="1" fill="#4a4a4a"/><rect x="5" y="21" width="1" height="1" fill="#525252"/><rect x="6" y="21" width="1" height="1" fill="#838383"/><rect x="7" y="21" width="1" height="1" fill="#707070"/><rect x="8" y="21" width="1" height="1" fill="#7b7b7b"/><rect x="9" y="21" width="1" height="1" fill="#6d6d6d"/><rect x="10" y="21" width="1" height="1" fill="#676767"/><rect x="11" y="21" width="1" height="1" fill="#878787"/><rect x="12" y="21" width="1" height="1" fill="#9c9c9c"/><rect x="13" y="21" width="1" height="1" fill="#6b6b6b"/><rect x="14" y="21" width="1" height="1" fill="#afafaf"/><rect x="15" y="21" width="1" height="1" fill="#979797"/><rect x="16" y="21" width="1" height="1" fill="#a0a0a0"/><rect x="17" y="21" width="1" height="1" fill="#707070"/><rect x="18" y="21" width="1" height="1" fill="#7c7c7c"/><rect x="19" y="21" width="1" height="1" fill="#838383"/><rect x="20" y="21" width="1" height="1" fill="#858585"/><rect x="21" y="21" width="1" height="1" fill="#575757"/><rect x="22" y="21" width="1" height="1" fill="#696969"/><rect x="23" y="21" width="1" height="1" fill="#545454"/><rect x="24" y="21" width="1" height="1" fill="#6e6e6e"/><rect x="25" y="21" width="1" height="1" fill="#787878"/><rect x="26" y="21" width="1" height="1" fill="#535353"/><rect x="27" y="21" width="1" height="1" fill="#666666"/><rect x="28" y="21" width="1" height="1" fill="#7e7e7e"/><rect x="0" y="22" width="1" height="1" fill="#676767"/><rect x="1" y="22" width="1" height="1" fill="#575757"/><rect x="2" y="22" width="1" height="1" fill="#6b6b6b"/><rect x="3" y="22" width="1" height="1" fill="#5b5b5b"/><rect x="4" y="22" width="1" height="1" fill="#686868"/><rect x="5" y="22" width="1" height="1" fill="#6d6d6d"/><rect x="6" y="22" width="1" height="1" fill="#626262"/><rect x="7" y="22" width="1" height="1" fill="#5e5e5e"/><rect x="8" y="22" width="1" height="1" fill="#979797"/><rect x="9" y="22" width="1" height="1" fill="#7e7e7e"/><rect x="10" y="22" width="1" height="1" fill="#747474"/><rect x="11" y="22" width="1" height="1" fill="#a3a3a3"/><rect x="12" y="22" width="1" height="1" fill="#868686"/><rect x="13" y="22" width="1" height="1" fill="#777777"/><rect x="14" y="22" width="1" height="1" fill="#a5a5a5"/><rect x="15" y="22" width="1" height="1" fill="#909090"/><rect x="16" y="22" width="1" height="1" fill="#212121"/><rect x="17" y="22" width="1" height="1" fill="#444444"/><rect x="18" y="22" width="1" height="1" fill="#656565"/><rect x="19" y="22" width="1" height="1" fill="#5c5c5c"/><rect x="20" y="22" width="1" height="1" fill="#4c4c4c"/><rect x="21" y="22" width="1" height="1" fill="#4d4d4d"/><rect x="22" y="22" width="1" height="1" fill="#9f9f9f"/><rect x="23" y="22" width="1" height="1" fill="#a0a0a0"/><rect x="24" y="22" width="1" height="1" fill="#dbdbdb"/><rect x="25" y="22" width="1" height="1" fill="#b2b2b2"/><rect x="26" y="22" width="1" height="1" fill="#484848"/><rect x="27" y="22" width="1" height="1" fill="#242424"/><rect x="28" y="22" width="1" height="1" fill="#898989"/><rect x="0" y="23" width="1" height="1" fill="#4e4e4e"/><rect x="1" y="23" width="1" height="1" fill="#4f4f4f"/><rect x="2" y="23" width="1" height="1" fill="#828282"/><rect x="3" y="23" width="1" height="1" fill="#707070"/><rect x="4" y="23" width="1" height="1" fill="#8d8d8d"/><rect x="5" y="23" width="1" height="1" fill="#898989"/><rect x="6" y="23" width="1" height="1" fill="#626262"/><rect x="7" y="23" width="1" height="1" fill="#555555"/><rect x="8" y="23" width="1" height="1" fill="#6b6b6b"/><rect x="9" y="23" width="1" height="1" fill="#6f6f6f"/><rect x="10" y="23" width="1" height="1" fill="#848484"/><rect x="11" y="23" width="1" height="1" fill="#878787"/><rect x="12" y="23" width="1" height="1" fill="#ababab"/><rect x="13" y="23" width="1" height="1" fill="#818181"/><rect x="14" y="23" width="1" height="1" fill="#bfbfbf"/><rect x="15" y="23" width="1" height="1" fill="#a2a2a2"/><rect x="16" y="23" width="1" height="1" fill="#262626"/><rect x="17" y="23" width="1" height="1" fill="#2d2d2d"/><rect x="18" y="23" width="1" height="1" fill="#777777"/><rect x="19" y="23" width="1" height="1" fill="#616161"/><rect x="20" y="23" width="1" height="1" fill="#656565"/><rect x="21" y="23" width="1" height="1" fill="#3e3e3e"/><rect x="22" y="23" width="1" height="1" fill="#a7a7a7"/><rect x="23" y="23" width="1" height="1" fill="#6a6a6a"/><rect x="24" y="23" width="1" height="1" fill="#c1c1c1"/><rect x="25" y="23" width="1" height="1" fill="#c6c6c6"/><rect x="26" y="23" width="1" height="1" fill="#393939"/><rect x="27" y="23" width="1" height="1" fill="#414141"/><rect x="28" y="23" width="1" height="1" fill="#828282"/><rect x="0" y="24" width="1" height="1" fill="#8a8a8a"/><rect x="1" y="24" width="1" height="1" fill="#656565"/><rect x="2" y="24" width="1" height="1" fill="#646464"/><rect x="3" y="24" width="1" height="1" fill="#474747"/><rect x="4" y="24" width="1" height="1" fill="#949494"/><rect x="5" y="24" width="1" height="1" fill="#8e8e8e"/><rect x="6" y="24" width="1" height="1" fill="#393939"/><rect x="7" y="24" width="1" height="1" fill="#2e2e2e"/><rect x="8" y="24" width="1" height="1" fill="#868686"/><rect x="9" y="24" width="1" height="1" fill="#b2b2b2"/><rect x="10" y="24" width="1" height="1" fill="#a3a3a3"/><rect x="11" y="24" width="1" height="1" fill="#828282"/><rect x="12" y="24" width="1" height="1" fill="#919191"/><rect x="13" y="24" width="1" height="1" fill="#5e5e5e"/><rect x="14" y="24" width="1" height="1" fill="#474747"/><rect x="15" y="24" width="1" height="1" fill="#616161"/><rect x="16" y="24" width="1" height="1" fill="#7b7b7b"/><rect x="17" y="24" width="1" height="1" fill="#818181"/><rect x="18" y="24" width="1" height="1" fill="#707070"/><rect x="19" y="24" width="1" height="1" fill="#a3a3a3"/><rect x="20" y="24" width="1" height="1" fill="#747474"/><rect x="21" y="24" width="1" height="1" fill="#808080"/><rect x="22" y="24" width="1" height="1" fill="#717171"/><rect x="23" y="24" width="1" height="1" fill="#6b6b6b"/><rect x="24" y="24" width="1" height="1" fill="#4e4e4e"/><rect x="25" y="24" width="1" height="1" fill="#5d5d5d"/><rect x="26" y="24" width="1" height="1" fill="#626262"/><rect x="27" y="24" width="1" height="1" fill="#7c7c7c"/><rect x="28" y="24" width="1" height="1" fill="#7a7a7a"/><rect x="0" y="25" width="1" height="1" fill="#8e8e8e"/><rect x="1" y="25" width="1" height="1" fill="#6c6c6c"/><rect x="2" y="25" width="1" height="1" fill="#525252"/><rect x="3" y="25" width="1" height="1" fill="#484848"/><rect x="4" y="25" width="1" height="1" fill="#929292"/><rect x="5" y="25" width="1" height="1" fill="#8c8c8c"/><rect x="6" y="25" width="1" height="1" fill="#3e3e3e"/><rect x="7" y="25" width="1" height="1" fill="#121212"/><rect x="8" y="25" width="1" height="1" fill="#8a8a8a"/><rect x="9" y="25" width="1" height="1" fill="#838383"/><rect x="10" y="25" width="1" height="1" fill="#6a6a6a"/><rect x="11" y="25" width="1" height="1" fill="#737373"/><rect x="12" y="25" width="1" height="1" fill="#878787"/><rect x="13" y="25" width="1" height="1" fill="#848484"/><rect x="14" y="25" width="1" height="1" fill="#696969"/><rect x="15" y="25" width="1" height="1" fill="#737373"/><rect x="16" y="25" width="1" height="1" fill="#808080"/><rect x="17" y="25" width="1" height="1" fill="#8c8c8c"/><rect x="18" y="25" width="1" height="1" fill="#6d6d6d"/><rect x="19" y="25" width="1" height="1" fill="#767676"/><rect x="20" y="25" width="1" height="1" fill="#7e7e7e"/><rect x="21" y="25" width="1" height="1" fill="#7d7d7d"/><rect x="22" y="25" width="1" height="1" fill="#696969"/><rect x="23" y="25" width="1" height="1" fill="#606060"/><rect x="24" y="25" width="1" height="1" fill="#656565"/><rect x="25" y="25" width="1" height="1" fill="#464646"/><rect x="26" y="25" width="1" height="1" fill="#808080"/><rect x="27" y="25" width="1" height="1" fill="#a2a2a2"/><rect x="28" y="25" width="1" height="1" fill="#989898"/><rect x="0" y="26" width="1" height="1" fill="#727272"/><rect x="1" y="26" width="1" height="1" fill="#9a9a9a"/><rect x="2" y="26" width="1" height="1" fill="#717171"/><rect x="3" y="26" width="1" height="1" fill="#848484"/><rect x="4" y="26" width="1" height="1" fill="#909090"/><rect x="5" y="26" width="1" height="1" fill="#868686"/><rect x="6" y="26" width="1" height="1" fill="#757575"/><rect x="7" y="26" width="1" height="1" fill="#7a7a7a"/><rect x="8" y="26" width="1" height="1" fill="#828282"/><rect x="9" y="26" width="1" height="1" fill="#878787"/><rect x="10" y="26" width="1" height="1" fill="#898989"/><rect x="11" y="26" width="1" height="1" fill="#949494"/><rect x="12" y="26" width="1" height="1" fill="#a8a8a8"/><rect x="13" y="26" width="1" height="1" fill="#b0b0b0"/><rect x="14" y="26" width="1" height="1" fill="#676767"/><rect x="15" y="26" width="1" height="1" fill="#5c5c5c"/><rect x="16" y="26" width="1" height="1" fill="#2f2f2f"/><rect x="17" y="26" width="1" height="1" fill="#5c5c5c"/><rect x="18" y="26" width="1" height="1" fill="#adadad"/><rect x="19" y="26" width="1" height="1" fill="#8f8f8f"/><rect x="20" y="26" width="1" height="1" fill="#b5b5b5"/><rect x="21" y="26" width="1" height="1" fill="#ababab"/><rect x="22" y="26" width="1" height="1" fill="#9e9e9e"/><rect x="23" y="26" width="1" height="1" fill="#9b9b9b"/><rect x="24" y="26" width="1" height="1" fill="#828282"/><rect x="25" y="26" width="1" height="1" fill="#9a9a9a"/><rect x="26" y="26" width="1" height="1" fill="#7b7b7b"/><rect x="27" y="26" width="1" height="1" fill="#595959"/><rect x="28" y="26" width="1" height="1" fill="#8a8a8a"/><rect x="0" y="27" width="1" height="1" fill="#b3b3b3"/><rect x="1" y="27" width="1" height="1" fill="#afafaf"/><rect x="2" y="27" width="1" height="1" fill="#868686"/><rect x="3" y="27" width="1" height="1" fill="#6f6f6f"/><rect x="4" y="27" width="1" height="1" fill="#737373"/><rect x="5" y="27" width="1" height="1" fill="#6e6e6e"/><rect x="6" y="27" width="1" height="1" fill="#7c7c7c"/><rect x="7" y="27" width="1" height="1" fill="#8c8c8c"/><rect x="8" y="27" width="1" height="1" fill="#7d7d7d"/><rect x="9" y="27" width="1" height="1" fill="#898989"/><rect x="10" y="27" width="1" height="1" fill="#777777"/><rect x="11" y="27" width="1" height="1" fill="#c5c5c5"/><rect x="12" y="27" width="1" height="1" fill="#d8d8d8"/><rect x="13" y="27" width="1" height="1" fill="#afafaf"/><rect x="14" y="27" width="1" height="1" fill="#6d6d6d"/><rect x="15" y="27" width="1" height="1" fill="#6a6a6a"/><rect x="16" y="27" width="1" height="1" fill="#4b4b4b"/><rect x="17" y="27" width="1" height="1" fill="#424242"/><rect x="18" y="27" width="1" height="1" fill="#8e8e8e"/><rect x="19" y="27" width="1" height="1" fill="#828282"/><rect x="20" y="27" width="1" height="1" fill="#a6a6a6"/><rect x="21" y="27" width="1" height="1" fill="#a2a2a2"/><rect x="22" y="27" width="1" height="1" fill="#989898"/><rect x="23" y="27" width="1" height="1" fill="#838383"/><rect x="24" y="27" width="1" height="1" fill="#909090"/><rect x="25" y="27" width="1" height="1" fill="#909090"/><rect x="26" y="27" width="1" height="1" fill="#747474"/><rect x="27" y="27" width="1" height="1" fill="#565656"/><rect x="28" y="27" width="1" height="1" fill="#6e6e6e"/><rect x="0" y="28" width="1" height="1" fill="#a3a3a3"/><rect x="1" y="28" width="1" height="1" fill="#9c9c9c"/><rect x="2" y="28" width="1" height="1" fill="#5a5a5a"/><rect x="3" y="28" width="1" height="1" fill="#585858"/><rect x="4" y="28" width="1" height="1" fill="#444444"/><rect x="5" y="28" width="1" height="1" fill="#565656"/><rect x="6" y="28" width="1" height="1" fill="#7b7b7b"/><rect x="7" y="28" width="1" height="1" fill="#5c5c5c"/><rect x="8" y="28" width="1" height="1" fill="#b1b1b1"/><rect x="9" y="28" width="1" height="1" fill="#c4c4c4"/><rect x="10" y="28" width="1" height="1" fill="#b1b1b1"/><rect x="11" y="28" width="1" height="1" fill="#9d9d9d"/><rect x="12" y="28" width="1" height="1" fill="#5a5a5a"/><rect x="13" y="28" width="1" height="1" fill="#656565"/><rect x="14" y="28" width="1" height="1" fill="#727272"/><rect x="15" y="28" width="1" height="1" fill="#505050"/><rect x="16" y="28" width="1" height="1" fill="#6d6d6d"/><rect x="17" y="28" width="1" height="1" fill="#898989"/><rect x="18" y="28" width="1" height="1" fill="#4f4f4f"/><rect x="19" y="28" width="1" height="1" fill="#676767"/><rect x="20" y="28" width="1" height="1" fill="#a3a3a3"/><rect x="21" y="28" width="1" height="1" fill="#9b9b9b"/><rect x="22" y="28" width="1" height="1" fill="#656565"/><rect x="23" y="28" width="1" height="1" fill="#767676"/><rect x="24" y="28" width="1" height="1" fill="#565656"/><rect x="25" y="28" width="1" height="1" fill="#626262"/><rect x="26" y="28" width="1" height="1" fill="#8e8e8e"/><rect x="27" y="28" width="1" height="1" fill="#b0b0b0"/><rect x="28" y="28" width="1" height="1" fill="#4c4c4c"/></pattern><pattern id="psand" width="19" height="19" patternUnits="userSpaceOnUse"><rect x="0" y="0" width="1" height="1" fill="#777777"/><rect x="1" y="0" width="1" height="1" fill="#424242"/><rect x="2" y="0" width="1" height="1" fill="#727272"/><rect x="3" y="0" width="1" height="1" fill="#6a6a6a"/><rect x="4" y="0" width="1" height="1" fill="#808080"/><rect x="5" y="0" width="1" height="1" fill="#7e7e7e"/><rect x="6" y="0" width="1" height="1" fill="#545454"/><rect x="7" y="0" width="1" height="1" fill="#4d4d4d"/><rect x="8" y="0" width="1" height="1" fill="#525252"/><rect x="9" y="0" width="1" height="1" fill="#727272"/><rect x="10" y="0" width="1" height="1" fill="#525252"/><rect x="11" y="0" width="1" height="1" fill="#525252"/><rect x="12" y="0" width="1" height="1" fill="#6e6e6e"/><rect x="13" y="0" width="1" height="1" fill="#818181"/><rect x="14" y="0" width="1" height="1" fill="#b1b1b1"/><rect x="15" y="0" width="1" height="1" fill="#9d9d9d"/><rect x="16" y="0" width="1" height="1" fill="#585858"/><rect x="17" y="0" width="1" height="1" fill="#7d7d7d"/><rect x="18" y="0" width="1" height="1" fill="#8e8e8e"/><rect x="0" y="1" width="1" height="1" fill="#7b7b7b"/><rect x="1" y="1" width="1" height="1" fill="#7f7f7f"/><rect x="2" y="1" width="1" height="1" fill="#676767"/><rect x="3" y="1" width="1" height="1" fill="#6b6b6b"/><rect x="4" y="1" width="1" height="1" fill="#a1a1a1"/><rect x="5" y="1" width="1" height="1" fill="#7f7f7f"/><rect x="6" y="1" width="1" height="1" fill="#595959"/><rect x="7" y="1" width="1" height="1" fill="#636363"/><rect x="8" y="1" width="1" height="1" fill="#858585"/><rect x="9" y="1" width="1" height="1" fill="#787878"/><rect x="10" y="1" width="1" height="1" fill="#707070"/><rect x="11" y="1" width="1" height="1" fill="#595959"/><rect x="12" y="1" width="1" height="1" fill="#929292"/><rect x="13" y="1" width="1" height="1" fill="#999999"/><rect x="14" y="1" width="1" height="1" fill="#afafaf"/><rect x="15" y="1" width="1" height="1" fill="#b0b0b0"/><rect x="16" y="1" width="1" height="1" fill="#4a4a4a"/><rect x="17" y="1" width="1" height="1" fill="#474747"/><rect x="18" y="1" width="1" height="1" fill="#6e6e6e"/><rect x="0" y="2" width="1" height="1" fill="#5b5b5b"/><rect x="1" y="2" width="1" height="1" fill="#707070"/><rect x="2" y="2" width="1" height="1" fill="#727272"/><rect x="3" y="2" width="1" height="1" fill="#919191"/><rect x="4" y="2" width="1" height="1" fill="#818181"/><rect x="5" y="2" width="1" height="1" fill="#838383"/><rect x="6" y="2" width="1" height="1" fill="#696969"/><rect x="7" y="2" width="1" height="1" fill="#7c7c7c"/><rect x="8" y="2" width="1" height="1" fill="#505050"/><rect x="9" y="2" width="1" height="1" fill="#636363"/><rect x="10" y="2" width="1" height="1" fill="#666666"/><rect x="11" y="2" width="1" height="1" fill="#8b8b8b"/><rect x="12" y="2" width="1" height="1" fill="#a3a3a3"/><rect x="13" y="2" width="1" height="1" fill="#919191"/><rect x="14" y="2" width="1" height="1" fill="#989898"/><rect x="15" y="2" width="1" height="1" fill="#838383"/><rect x="16" y="2" width="1" height="1" fill="#707070"/><rect x="17" y="2" width="1" height="1" fill="#7e7e7e"/><rect x="18" y="2" width="1" height="1" fill="#2a2a2a"/><rect x="0" y="3" width="1" height="1" fill="#8b8b8b"/><rect x="1" y="3" width="1" height="1" fill="#484848"/><rect x="2" y="3" width="1" height="1" fill="#acacac"/><rect x="3" y="3" width="1" height="1" fill="#8f8f8f"/><rect x="4" y="3" width="1" height="1" fill="#989898"/><rect x="5" y="3" width="1" height="1" fill="#a1a1a1"/><rect x="6" y="3" width="1" height="1" fill="#5f5f5f"/><rect x="7" y="3" width="1" height="1" fill="#818181"/><rect x="8" y="3" width="1" height="1" fill="#535353"/><rect x="9" y="3" width="1" height="1" fill="#2d2d2d"/><rect x="10" y="3" width="1" height="1" fill="#868686"/><rect x="11" y="3" width="1" height="1" fill="#858585"/><rect x="12" y="3" width="1" height="1" fill="#999999"/><rect x="13" y="3" width="1" height="1" fill="#b0b0b0"/><rect x="14" y="3" width="1" height="1" fill="#868686"/><rect x="15" y="3" width="1" height="1" fill="#989898"/><rect x="16" y="3" width="1" height="1" fill="#959595"/><rect x="17" y="3" width="1" height="1" fill="#747474"/><rect x="18" y="3" width="1" height="1" fill="#4f4f4f"/><rect x="0" y="4" width="1" height="1" fill="#3c3c3c"/><rect x="1" y="4" width="1" height="1" fill="#3f3f3f"/><rect x="2" y="4" width="1" height="1" fill="#a3a3a3"/><rect x="3" y="4" width="1" height="1" fill="#828282"/><rect x="4" y="4" width="1" height="1" fill="#464646"/><rect x="5" y="4" width="1" height="1" fill="#282828"/><rect x="6" y="4" width="1" height="1" fill="#919191"/><rect x="7" y="4" width="1" height="1" fill="#797979"/><rect x="8" y="4" width="1" height="1" fill="#adadad"/><rect x="9" y="4" width="1" height="1" fill="#878787"/><rect x="10" y="4" width="1" height="1" fill="#8d8d8d"/><rect x="11" y="4" width="1" height="1" fill="#7f7f7f"/><rect x="12" y="4" width="1" height="1" fill="#909090"/><rect x="13" y="4" width="1" height="1" fill="#8e8e8e"/><rect x="14" y="4" width="1" height="1" fill="#666666"/><rect x="15" y="4" width="1" height="1" fill="#494949"/><rect x="16" y="4" width="1" height="1" fill="#151515"/><rect x="17" y="4" width="1" height="1" fill="#494949"/><rect x="18" y="4" width="1" height="1" fill="#585858"/><rect x="0" y="5" width="1" height="1" fill="#505050"/><rect x="1" y="5" width="1" height="1" fill="#626262"/><rect x="2" y="5" width="1" height="1" fill="#707070"/><rect x="3" y="5" width="1" height="1" fill="#898989"/><rect x="4" y="5" width="1" height="1" fill="#3d3d3d"/><rect x="5" y="5" width="1" height="1" fill="#343434"/><rect x="6" y="5" width="1" height="1" fill="#969696"/><rect x="7" y="5" width="1" height="1" fill="#8d8d8d"/><rect x="8" y="5" width="1" height="1" fill="#969696"/><rect x="9" y="5" width="1" height="1" fill="#929292"/><rect x="10" y="5" width="1" height="1" fill="#959595"/><rect x="11" y="5" width="1" height="1" fill="#777777"/><rect x="12" y="5" width="1" height="1" fill="#9b9b9b"/><rect x="13" y="5" width="1" height="1" fill="#989898"/><rect x="14" y="5" width="1" height="1" fill="#3e3e3e"/><rect x="15" y="5" width="1" height="1" fill="#4e4e4e"/><rect x="16" y="5" width="1" height="1" fill="#494949"/><rect x="17" y="5" width="1" height="1" fill="#505050"/><rect x="18" y="5" width="1" height="1" fill="#7a7a7a"/><rect x="0" y="6" width="1" height="1" fill="#787878"/><rect x="1" y="6" width="1" height="1" fill="#7c7c7c"/><rect x="2" y="6" width="1" height="1" fill="#656565"/><rect x="3" y="6" width="1" height="1" fill="#686868"/><rect x="4" y="6" width="1" height="1" fill="#929292"/><rect x="5" y="6" width="1" height="1" fill="#7a7a7a"/><rect x="6" y="6" width="1" height="1" fill="#7e7e7e"/><rect x="7" y="6" width="1" height="1" fill="#494949"/><rect x="8" y="6" width="1" height="1" fill="#808080"/><rect x="9" y="6" width="1" height="1" fill="#707070"/><rect x="10" y="6" width="1" height="1" fill="#535353"/><rect x="11" y="6" width="1" height="1" fill="#8e8e8e"/><rect x="12" y="6" width="1" height="1" fill="#747474"/><rect x="13" y="6" width="1" height="1" fill="#6e6e6e"/><rect x="14" y="6" width="1" height="1" fill="#8f8f8f"/><rect x="15" y="6" width="1" height="1" fill="#9b9b9b"/><rect x="16" y="6" width="1" height="1" fill="#999999"/><rect x="17" y="6" width="1" height="1" fill="#6a6a6a"/><rect x="18" y="6" width="1" height="1" fill="#2b2b2b"/><rect x="0" y="7" width="1" height="1" fill="#565656"/><rect x="1" y="7" width="1" height="1" fill="#505050"/><rect x="2" y="7" width="1" height="1" fill="#696969"/><rect x="3" y="7" width="1" height="1" fill="#646464"/><rect x="4" y="7" width="1" height="1" fill="#707070"/><rect x="5" y="7" width="1" height="1" fill="#727272"/><rect x="6" y="7" width="1" height="1" fill="#7e7e7e"/><rect x="7" y="7" width="1" height="1" fill="#4c4c4c"/><rect x="8" y="7" width="1" height="1" fill="#9a9a9a"/><rect x="9" y="7" width="1" height="1" fill="#686868"/><rect x="10" y="7" width="1" height="1" fill="#646464"/><rect x="11" y="7" width="1" height="1" fill="#8a8a8a"/><rect x="12" y="7" width="1" height="1" fill="#797979"/><rect x="13" y="7" width="1" height="1" fill="#585858"/><rect x="14" y="7" width="1" height="1" fill="#b4b4b4"/><rect x="15" y="7" width="1" height="1" fill="#808080"/><rect x="16" y="7" width="1" height="1" fill="#686868"/><rect x="17" y="7" width="1" height="1" fill="#919191"/><rect x="18" y="7" width="1" height="1" fill="#6b6b6b"/><rect x="0" y="8" width="1" height="1" fill="#4d4d4d"/><rect x="1" y="8" width="1" height="1" fill="#727272"/><rect x="2" y="8" width="1" height="1" fill="#6d6d6d"/><rect x="3" y="8" width="1" height="1" fill="#5a5a5a"/><rect x="4" y="8" width="1" height="1" fill="#727272"/><rect x="5" y="8" width="1" height="1" fill="#8f8f8f"/><rect x="6" y="8" width="1" height="1" fill="#7a7a7a"/><rect x="7" y="8" width="1" height="1" fill="#818181"/><rect x="8" y="8" width="1" height="1" fill="#727272"/><rect x="9" y="8" width="1" height="1" fill="#484848"/><rect x="10" y="8" width="1" height="1" fill="#535353"/><rect x="11" y="8" width="1" height="1" fill="#5c5c5c"/><rect x="12" y="8" width="1" height="1" fill="#828282"/><rect x="13" y="8" width="1" height="1" fill="#575757"/><rect x="14" y="8" width="1" height="1" fill="#7a7a7a"/><rect x="15" y="8" width="1" height="1" fill="#292929"/><rect x="16" y="8" width="1" height="1" fill="#9e9e9e"/><rect x="17" y="8" width="1" height="1" fill="#818181"/><rect x="18" y="8" width="1" height="1" fill="#545454"/><rect x="0" y="9" width="1" height="1" fill="#757575"/><rect x="1" y="9" width="1" height="1" fill="#505050"/><rect x="2" y="9" width="1" height="1" fill="#595959"/><rect x="3" y="9" width="1" height="1" fill="#606060"/><rect x="4" y="9" width="1" height="1" fill="#a2a2a2"/><rect x="5" y="9" width="1" height="1" fill="#838383"/><rect x="6" y="9" width="1" height="1" fill="#5e5e5e"/><rect x="7" y="9" width="1" height="1" fill="#4c4c4c"/><rect x="8" y="9" width="1" height="1" fill="#808080"/><rect x="9" y="9" width="1" height="1" fill="#494949"/><rect x="10" y="9" width="1" height="1" fill="#585858"/><rect x="11" y="9" width="1" height="1" fill="#3f3f3f"/><rect x="12" y="9" width="1" height="1" fill="#7c7c7c"/><rect x="13" y="9" width="1" height="1" fill="#5f5f5f"/><rect x="14" y="9" width="1" height="1" fill="#7d7d7d"/><rect x="15" y="9" width="1" height="1" fill="#717171"/><rect x="16" y="9" width="1" height="1" fill="#8e8e8e"/><rect x="17" y="9" width="1" height="1" fill="#9d9d9d"/><rect x="18" y="9" width="1" height="1" fill="#343434"/><rect x="0" y="10" width="1" height="1" fill="#767676"/><rect x="1" y="10" width="1" height="1" fill="#717171"/><rect x="2" y="10" width="1" height="1" fill="#585858"/><rect x="3" y="10" width="1" height="1" fill="#727272"/><rect x="4" y="10" width="1" height="1" fill="#474747"/><rect x="5" y="10" width="1" height="1" fill="#676767"/><rect x="6" y="10" width="1" height="1" fill="#2c2c2c"/><rect x="7" y="10" width="1" height="1" fill="#616161"/><rect x="8" y="10" width="1" height="1" fill="#585858"/><rect x="9" y="10" width="1" height="1" fill="#616161"/><rect x="10" y="10" width="1" height="1" fill="#858585"/><rect x="11" y="10" width="1" height="1" fill="#858585"/><rect x="12" y="10" width="1" height="1" fill="#616161"/><rect x="13" y="10" width="1" height="1" fill="#575757"/><rect x="14" y="10" width="1" height="1" fill="#808080"/><rect x="15" y="10" width="1" height="1" fill="#7e7e7e"/><rect x="16" y="10" width="1" height="1" fill="#171717"/><rect x="17" y="10" width="1" height="1" fill="#363636"/><rect x="18" y="10" width="1" height="1" fill="#313131"/><rect x="0" y="11" width="1" height="1" fill="#656565"/><rect x="1" y="11" width="1" height="1" fill="#7f7f7f"/><rect x="2" y="11" width="1" height="1" fill="#737373"/><rect x="3" y="11" width="1" height="1" fill="#747474"/><rect x="4" y="11" width="1" height="1" fill="#393939"/><rect x="5" y="11" width="1" height="1" fill="#464646"/><rect x="6" y="11" width="1" height="1" fill="#5d5d5d"/><rect x="7" y="11" width="1" height="1" fill="#777777"/><rect x="8" y="11" width="1" height="1" fill="#787878"/><rect x="9" y="11" width="1" height="1" fill="#8e8e8e"/><rect x="10" y="11" width="1" height="1" fill="#969696"/><rect x="11" y="11" width="1" height="1" fill="#6c6c6c"/><rect x="12" y="11" width="1" height="1" fill="#575757"/><rect x="13" y="11" width="1" height="1" fill="#4d4d4d"/><rect x="14" y="11" width="1" height="1" fill="#7d7d7d"/><rect x="15" y="11" width="1" height="1" fill="#9e9e9e"/><rect x="16" y="11" width="1" height="1" fill="#4a4a4a"/><rect x="17" y="11" width="1" height="1" fill="#101010"/><rect x="18" y="11" width="1" height="1" fill="#343434"/><rect x="0" y="12" width="1" height="1" fill="#6b6b6b"/><rect x="1" y="12" width="1" height="1" fill="#8f8f8f"/><rect x="2" y="12" width="1" height="1" fill="#8d8d8d"/><rect x="3" y="12" width="1" height="1" fill="#939393"/><rect x="4" y="12" width="1" height="1" fill="#919191"/><rect x="5" y="12" width="1" height="1" fill="#5d5d5d"/><rect x="6" y="12" width="1" height="1" fill="#4b4b4b"/><rect x="7" y="12" width="1" height="1" fill="#838383"/><rect x="8" y="12" width="1" height="1" fill="#959595"/><rect x="9" y="12" width="1" height="1" fill="#7e7e7e"/><rect x="10" y="12" width="1" height="1" fill="#060606"/><rect x="11" y="12" width="1" height="1" fill="#101010"/><rect x="12" y="12" width="1" height="1" fill="#252525"/><rect x="13" y="12" width="1" height="1" fill="#575757"/><rect x="14" y="12" width="1" height="1" fill="#838383"/><rect x="15" y="12" width="1" height="1" fill="#969696"/><rect x="16" y="12" width="1" height="1" fill="#7e7e7e"/><rect x="17" y="12" width="1" height="1" fill="#737373"/><rect x="18" y="12" width="1" height="1" fill="#404040"/><rect x="0" y="13" width="1" height="1" fill="#ababab"/><rect x="1" y="13" width="1" height="1" fill="#626262"/><rect x="2" y="13" width="1" height="1" fill="#909090"/><rect x="3" y="13" width="1" height="1" fill="#8d8d8d"/><rect x="4" y="13" width="1" height="1" fill="#797979"/><rect x="5" y="13" width="1" height="1" fill="#656565"/><rect x="6" y="13" width="1" height="1" fill="#666666"/><rect x="7" y="13" width="1" height="1" fill="#6c6c6c"/><rect x="8" y="13" width="1" height="1" fill="#8b8b8b"/><rect x="9" y="13" width="1" height="1" fill="#858585"/><rect x="10" y="13" width="1" height="1" fill="#2b2b2b"/><rect x="11" y="13" width="1" height="1" fill="#1b1b1b"/><rect x="12" y="13" width="1" height="1" fill="#515151"/><rect x="13" y="13" width="1" height="1" fill="#4f4f4f"/><rect x="14" y="13" width="1" height="1" fill="#868686"/><rect x="15" y="13" width="1" height="1" fill="#9c9c9c"/><rect x="16" y="13" width="1" height="1" fill="#9b9b9b"/><rect x="17" y="13" width="1" height="1" fill="#787878"/><rect x="18" y="13" width="1" height="1" fill="#5b5b5b"/><rect x="0" y="14" width="1" height="1" fill="#3b3b3b"/><rect x="1" y="14" width="1" height="1" fill="#444444"/><rect x="2" y="14" width="1" height="1" fill="#999999"/><rect x="3" y="14" width="1" height="1" fill="#9e9e9e"/><rect x="4" y="14" width="1" height="1" fill="#696969"/><rect x="5" y="14" width="1" height="1" fill="#626262"/><rect x="6" y="14" width="1" height="1" fill="#646464"/><rect x="7" y="14" width="1" height="1" fill="#6d6d6d"/><rect x="8" y="14" width="1" height="1" fill="#7c7c7c"/><rect x="9" y="14" width="1" height="1" fill="#787878"/><rect x="10" y="14" width="1" height="1" fill="#8e8e8e"/><rect x="11" y="14" width="1" height="1" fill="#808080"/><rect x="12" y="14" width="1" height="1" fill="#000000"/><rect x="13" y="14" width="1" height="1" fill="#2d2d2d"/><rect x="14" y="14" width="1" height="1" fill="#939393"/><rect x="15" y="14" width="1" height="1" fill="#848484"/><rect x="16" y="14" width="1" height="1" fill="#707070"/><rect x="17" y="14" width="1" height="1" fill="#9d9d9d"/><rect x="18" y="14" width="1" height="1" fill="#0b0b0b"/><rect x="0" y="15" width="1" height="1" fill="#585858"/><rect x="1" y="15" width="1" height="1" fill="#424242"/><rect x="2" y="15" width="1" height="1" fill="#c8c8c8"/><rect x="3" y="15" width="1" height="1" fill="#8b8b8b"/><rect x="4" y="15" width="1" height="1" fill="#727272"/><rect x="5" y="15" width="1" height="1" fill="#686868"/><rect x="6" y="15" width="1" height="1" fill="#565656"/><rect x="7" y="15" width="1" height="1" fill="#4e4e4e"/><rect x="8" y="15" width="1" height="1" fill="#606060"/><rect x="9" y="15" width="1" height="1" fill="#858585"/><rect x="10" y="15" width="1" height="1" fill="#797979"/><rect x="11" y="15" width="1" height="1" fill="#7e7e7e"/><rect x="12" y="15" width="1" height="1" fill="#2b2b2b"/><rect x="13" y="15" width="1" height="1" fill="#151515"/><rect x="14" y="15" width="1" height="1" fill="#868686"/><rect x="15" y="15" width="1" height="1" fill="#969696"/><rect x="16" y="15" width="1" height="1" fill="#7c7c7c"/><rect x="17" y="15" width="1" height="1" fill="#6b6b6b"/><rect x="18" y="15" width="1" height="1" fill="#2d2d2d"/><rect x="0" y="16" width="1" height="1" fill="#808080"/><rect x="1" y="16" width="1" height="1" fill="#a7a7a7"/><rect x="2" y="16" width="1" height="1" fill="#222222"/><rect x="3" y="16" width="1" height="1" fill="#4b4b4b"/><rect x="4" y="16" width="1" height="1" fill="#808080"/><rect x="5" y="16" width="1" height="1" fill="#898989"/><rect x="6" y="16" width="1" height="1" fill="#737373"/><rect x="7" y="16" width="1" height="1" fill="#7f7f7f"/><rect x="8" y="16" width="1" height="1" fill="#c2c2c2"/><rect x="9" y="16" width="1" height="1" fill="#d4d4d4"/><rect x="10" y="16" width="1" height="1" fill="#4e4e4e"/><rect x="11" y="16" width="1" height="1" fill="#767676"/><rect x="12" y="16" width="1" height="1" fill="#828282"/><rect x="13" y="16" width="1" height="1" fill="#7e7e7e"/><rect x="14" y="16" width="1" height="1" fill="#7e7e7e"/><rect x="15" y="16" width="1" height="1" fill="#9f9f9f"/><rect x="16" y="16" width="1" height="1" fill="#585858"/><rect x="17" y="16" width="1" height="1" fill="#616161"/><rect x="18" y="16" width="1" height="1" fill="#535353"/><rect x="0" y="17" width="1" height="1" fill="#929292"/><rect x="1" y="17" width="1" height="1" fill="#9b9b9b"/><rect x="2" y="17" width="1" height="1" fill="#4f4f4f"/><rect x="3" y="17" width="1" height="1" fill="#343434"/><rect x="4" y="17" width="1" height="1" fill="#a4a4a4"/><rect x="5" y="17" width="1" height="1" fill="#adadad"/><rect x="6" y="17" width="1" height="1" fill="#676767"/><rect x="7" y="17" width="1" height="1" fill="#979797"/><rect x="8" y="17" width="1" height="1" fill="#969696"/><rect x="9" y="17" width="1" height="1" fill="#bcbcbc"/><rect x="10" y="17" width="1" height="1" fill="#676767"/><rect x="11" y="17" width="1" height="1" fill="#797979"/><rect x="12" y="17" width="1" height="1" fill="#737373"/><rect x="13" y="17" width="1" height="1" fill="#646464"/><rect x="14" y="17" width="1" height="1" fill="#7d7d7d"/><rect x="15" y="17" width="1" height="1" fill="#747474"/><rect x="16" y="17" width="1" height="1" fill="#6a6a6a"/><rect x="17" y="17" width="1" height="1" fill="#565656"/><rect x="18" y="17" width="1" height="1" fill="#4a4a4a"/><rect x="0" y="18" width="1" height="1" fill="#6d6d6d"/><rect x="1" y="18" width="1" height="1" fill="#535353"/><rect x="2" y="18" width="1" height="1" fill="#636363"/><rect x="3" y="18" width="1" height="1" fill="#626262"/><rect x="4" y="18" width="1" height="1" fill="#6e6e6e"/><rect x="5" y="18" width="1" height="1" fill="#6a6a6a"/><rect x="6" y="18" width="1" height="1" fill="#797979"/><rect x="7" y="18" width="1" height="1" fill="#5d5d5d"/><rect x="8" y="18" width="1" height="1" fill="#838383"/><rect x="9" y="18" width="1" height="1" fill="#7f7f7f"/><rect x="10" y="18" width="1" height="1" fill="#777777"/><rect x="11" y="18" width="1" height="1" fill="#7b7b7b"/><rect x="12" y="18" width="1" height="1" fill="#9a9a9a"/><rect x="13" y="18" width="1" height="1" fill="#b3b3b3"/><rect x="14" y="18" width="1" height="1" fill="#747474"/><rect x="15" y="18" width="1" height="1" fill="#686868"/><rect x="16" y="18" width="1" height="1" fill="#8d8d8d"/><rect x="17" y="18" width="1" height="1" fill="#8b8b8b"/><rect x="18" y="18" width="1" height="1" fill="#6b6b6b"/></pattern><pattern id="prod" width="7" height="61" patternUnits="userSpaceOnUse"><rect x="0" y="0" width="1" height="1" fill="#939393"/><rect x="1" y="0" width="1" height="1" fill="#848484"/><rect x="2" y="0" width="1" height="1" fill="#747474"/><rect x="3" y="0" width="1" height="1" fill="#8b8b8b"/><rect x="4" y="0" width="1" height="1" fill="#8a8a8a"/><rect x="5" y="0" width="1" height="1" fill="#878787"/><rect x="6" y="0" width="1" height="1" fill="#5c5c5c"/><rect x="0" y="1" width="1" height="1" fill="#636363"/><rect x="1" y="1" width="1" height="1" fill="#878787"/><rect x="2" y="1" width="1" height="1" fill="#777777"/><rect x="3" y="1" width="1" height="1" fill="#acacac"/><rect x="4" y="1" width="1" height="1" fill="#7f7f7f"/><rect x="5" y="1" width="1" height="1" fill="#858585"/><rect x="6" y="1" width="1" height="1" fill="#525252"/><rect x="0" y="2" width="1" height="1" fill="#9c9c9c"/><rect x="1" y="2" width="1" height="1" fill="#b5b5b5"/><rect x="2" y="2" width="1" height="1" fill="#787878"/><rect x="3" y="2" width="1" height="1" fill="#bdbdbd"/><rect x="4" y="2" width="1" height="1" fill="#7c7c7c"/><rect x="5" y="2" width="1" height="1" fill="#7f7f7f"/><rect x="6" y="2" width="1" height="1" fill="#b1b1b1"/><rect x="0" y="3" width="1" height="1" fill="#b1b1b1"/><rect x="1" y="3" width="1" height="1" fill="#b6b6b6"/><rect x="2" y="3" width="1" height="1" fill="#8e8e8e"/><rect x="3" y="3" width="1" height="1" fill="#919191"/><rect x="4" y="3" width="1" height="1" fill="#929292"/><rect x="5" y="3" width="1" height="1" fill="#8c8c8c"/><rect x="6" y="3" width="1" height="1" fill="#7e7e7e"/><rect x="0" y="4" width="1" height="1" fill="#7b7b7b"/><rect x="1" y="4" width="1" height="1" fill="#6e6e6e"/><rect x="2" y="4" width="1" height="1" fill="#979797"/><rect x="3" y="4" width="1" height="1" fill="#878787"/><rect x="4" y="4" width="1" height="1" fill="#a3a3a3"/><rect x="5" y="4" width="1" height="1" fill="#9e9e9e"/><rect x="6" y="4" width="1" height="1" fill="#adadad"/><rect x="0" y="5" width="1" height="1" fill="#7e7e7e"/><rect x="1" y="5" width="1" height="1" fill="#484848"/><rect x="2" y="5" width="1" height="1" fill="#989898"/><rect x="3" y="5" width="1" height="1" fill="#7f7f7f"/><rect x="4" y="5" width="1" height="1" fill="#989898"/><rect x="5" y="5" width="1" height="1" fill="#bbbbbb"/><rect x="6" y="5" width="1" height="1" fill="#9a9a9a"/><rect x="0" y="6" width="1" height="1" fill="#737373"/><rect x="1" y="6" width="1" height="1" fill="#6a6a6a"/><rect x="2" y="6" width="1" height="1" fill="#bdbdbd"/><rect x="3" y="6" width="1" height="1" fill="#989898"/><rect x="4" y="6" width="1" height="1" fill="#7c7c7c"/><rect x="5" y="6" width="1" height="1" fill="#a6a6a6"/><rect x="6" y="6" width="1" height="1" fill="#b7b7b7"/><rect x="0" y="7" width="1" height="1" fill="#6f6f6f"/><rect x="1" y="7" width="1" height="1" fill="#8a8a8a"/><rect x="2" y="7" width="1" height="1" fill="#9a9a9a"/><rect x="3" y="7" width="1" height="1" fill="#a4a4a4"/><rect x="4" y="7" width="1" height="1" fill="#9f9f9f"/><rect x="5" y="7" width="1" height="1" fill="#a4a4a4"/><rect x="6" y="7" width="1" height="1" fill="#b4b4b4"/><rect x="0" y="8" width="1" height="1" fill="#cccccc"/><rect x="1" y="8" width="1" height="1" fill="#e3e3e3"/><rect x="2" y="8" width="1" height="1" fill="#9e9e9e"/><rect x="3" y="8" width="1" height="1" fill="#cacaca"/><rect x="4" y="8" width="1" height="1" fill="#adadad"/><rect x="5" y="8" width="1" height="1" fill="#f1f1f1"/><rect x="6" y="8" width="1" height="1" fill="#8f8f8f"/><rect x="0" y="9" width="1" height="1" fill="#bababa"/><rect x="1" y="9" width="1" height="1" fill="#b1b1b1"/><rect x="2" y="9" width="1" height="1" fill="#9a9a9a"/><rect x="3" y="9" width="1" height="1" fill="#8d8d8d"/><rect x="4" y="9" width="1" height="1" fill="#cecece"/><rect x="5" y="9" width="1" height="1" fill="#efefef"/><rect x="6" y="9" width="1" height="1" fill="#ababab"/><rect x="0" y="10" width="1" height="1" fill="#828282"/><rect x="1" y="10" width="1" height="1" fill="#7f7f7f"/><rect x="2" y="10" width="1" height="1" fill="#7e7e7e"/><rect x="3" y="10" width="1" height="1" fill="#747474"/><rect x="4" y="10" width="1" height="1" fill="#9c9c9c"/><rect x="5" y="10" width="1" height="1" fill="#868686"/><rect x="6" y="10" width="1" height="1" fill="#979797"/><rect x="0" y="11" width="1" height="1" fill="#7f7f7f"/><rect x="1" y="11" width="1" height="1" fill="#757575"/><rect x="2" y="11" width="1" height="1" fill="#a5a5a5"/><rect x="3" y="11" width="1" height="1" fill="#9a9a9a"/><rect x="4" y="11" width="1" height="1" fill="#676767"/><rect x="5" y="11" width="1" height="1" fill="#8c8c8c"/><rect x="6" y="11" width="1" height="1" fill="#7f7f7f"/><rect x="0" y="12" width="1" height="1" fill="#696969"/><rect x="1" y="12" width="1" height="1" fill="#4b4b4b"/><rect x="2" y="12" width="1" height="1" fill="#8b8b8b"/><rect x="3" y="12" width="1" height="1" fill="#9c9c9c"/><rect x="4" y="12" width="1" height="1" fill="#ababab"/><rect x="5" y="12" width="1" height="1" fill="#b6b6b6"/><rect x="6" y="12" width="1" height="1" fill="#a3a3a3"/><rect x="0" y="13" width="1" height="1" fill="#7b7b7b"/><rect x="1" y="13" width="1" height="1" fill="#777777"/><rect x="2" y="13" width="1" height="1" fill="#939393"/><rect x="3" y="13" width="1" height="1" fill="#9c9c9c"/><rect x="4" y="13" width="1" height="1" fill="#939393"/><rect x="5" y="13" width="1" height="1" fill="#9f9f9f"/><rect x="6" y="13" width="1" height="1" fill="#9a9a9a"/><rect x="0" y="14" width="1" height="1" fill="#8d8d8d"/><rect x="1" y="14" width="1" height="1" fill="#8f8f8f"/><rect x="2" y="14" width="1" height="1" fill="#d9d9d9"/><rect x="3" y="14" width="1" height="1" fill="#d1d1d1"/><rect x="4" y="14" width="1" height="1" fill="#929292"/><rect x="5" y="14" width="1" height="1" fill="#7b7b7b"/><rect x="6" y="14" width="1" height="1" fill="#8d8d8d"/><rect x="0" y="15" width="1" height="1" fill="#858585"/><rect x="1" y="15" width="1" height="1" fill="#8f8f8f"/><rect x="2" y="15" width="1" height="1" fill="#9a9a9a"/><rect x="3" y="15" width="1" height="1" fill="#cecece"/><rect x="4" y="15" width="1" height="1" fill="#646464"/><rect x="5" y="15" width="1" height="1" fill="#787878"/><rect x="6" y="15" width="1" height="1" fill="#929292"/><rect x="0" y="16" width="1" height="1" fill="#535353"/><rect x="1" y="16" width="1" height="1" fill="#7d7d7d"/><rect x="2" y="16" width="1" height="1" fill="#7d7d7d"/><rect x="3" y="16" width="1" height="1" fill="#9d9d9d"/><rect x="4" y="16" width="1" height="1" fill="#949494"/><rect x="5" y="16" width="1" height="1" fill="#747474"/><rect x="6" y="16" width="1" height="1" fill="#c9c9c9"/><rect x="0" y="17" width="1" height="1" fill="#767676"/><rect x="1" y="17" width="1" height="1" fill="#575757"/><rect x="2" y="17" width="1" height="1" fill="#808080"/><rect x="3" y="17" width="1" height="1" fill="#747474"/><rect x="4" y="17" width="1" height="1" fill="#7f7f7f"/><rect x="5" y="17" width="1" height="1" fill="#777777"/><rect x="6" y="17" width="1" height="1" fill="#c3c3c3"/><rect x="0" y="18" width="1" height="1" fill="#b8b8b8"/><rect x="1" y="18" width="1" height="1" fill="#c0c0c0"/><rect x="2" y="18" width="1" height="1" fill="#787878"/><rect x="3" y="18" width="1" height="1" fill="#797979"/><rect x="4" y="18" width="1" height="1" fill="#b6b6b6"/><rect x="5" y="18" width="1" height="1" fill="#a0a0a0"/><rect x="6" y="18" width="1" height="1" fill="#8f8f8f"/><rect x="0" y="19" width="1" height="1" fill="#bababa"/><rect x="1" y="19" width="1" height="1" fill="#939393"/><rect x="2" y="19" width="1" height="1" fill="#878787"/><rect x="3" y="19" width="1" height="1" fill="#636363"/><rect x="4" y="19" width="1" height="1" fill="#c8c8c8"/><rect x="5" y="19" width="1" height="1" fill="#919191"/><rect x="6" y="19" width="1" height="1" fill="#b4b4b4"/><rect x="0" y="20" width="1" height="1" fill="#ababab"/><rect x="1" y="20" width="1" height="1" fill="#7c7c7c"/><rect x="2" y="20" width="1" height="1" fill="#b3b3b3"/><rect x="3" y="20" width="1" height="1" fill="#868686"/><rect x="4" y="20" width="1" height="1" fill="#6b6b6b"/><rect x="5" y="20" width="1" height="1" fill="#9a9a9a"/><rect x="6" y="20" width="1" height="1" fill="#939393"/><rect x="0" y="21" width="1" height="1" fill="#8b8b8b"/><rect x="1" y="21" width="1" height="1" fill="#5e5e5e"/><rect x="2" y="21" width="1" height="1" fill="#959595"/><rect x="3" y="21" width="1" height="1" fill="#909090"/><rect x="4" y="21" width="1" height="1" fill="#858585"/><rect x="5" y="21" width="1" height="1" fill="#878787"/><rect x="6" y="21" width="1" height="1" fill="#636363"/><rect x="0" y="22" width="1" height="1" fill="#575757"/><rect x="1" y="22" width="1" height="1" fill="#848484"/><rect x="2" y="22" width="1" height="1" fill="#b1b1b1"/><rect x="3" y="22" width="1" height="1" fill="#8c8c8c"/><rect x="4" y="22" width="1" height="1" fill="#adadad"/><rect x="5" y="22" width="1" height="1" fill="#c3c3c3"/><rect x="6" y="22" width="1" height="1" fill="#d4d4d4"/><rect x="0" y="23" width="1" height="1" fill="#6f6f6f"/><rect x="1" y="23" width="1" height="1" fill="#4b4b4b"/><rect x="2" y="23" width="1" height="1" fill="#969696"/><rect x="3" y="23" width="1" height="1" fill="#969696"/><rect x="4" y="23" width="1" height="1" fill="#d7d7d7"/><rect x="5" y="23" width="1" height="1" fill="#d2d2d2"/><rect x="6" y="23" width="1" height="1" fill="#cacaca"/><rect x="0" y="24" width="1" height="1" fill="#a5a5a5"/><rect x="1" y="24" width="1" height="1" fill="#868686"/><rect x="2" y="24" width="1" height="1" fill="#9d9d9d"/><rect x="3" y="24" width="1" height="1" fill="#777777"/><rect x="4" y="24" width="1" height="1" fill="#979797"/><rect x="5" y="24" width="1" height="1" fill="#a1a1a1"/><rect x="6" y="24" width="1" height="1" fill="#9e9e9e"/><rect x="0" y="25" width="1" height="1" fill="#808080"/><rect x="1" y="25" width="1" height="1" fill="#6c6c6c"/><rect x="2" y="25" width="1" height="1" fill="#838383"/><rect x="3" y="25" width="1" height="1" fill="#7f7f7f"/><rect x="4" y="25" width="1" height="1" fill="#898989"/><rect x="5" y="25" width="1" height="1" fill="#999999"/><rect x="6" y="25" width="1" height="1" fill="#878787"/><rect x="0" y="26" width="1" height="1" fill="#9f9f9f"/><rect x="1" y="26" width="1" height="1" fill="#a1a1a1"/><rect x="2" y="26" width="1" height="1" fill="#7f7f7f"/><rect x="3" y="26" width="1" height="1" fill="#949494"/><rect x="4" y="26" width="1" height="1" fill="#c2c2c2"/><rect x="5" y="26" width="1" height="1" fill="#989898"/><rect x="6" y="26" width="1" height="1" fill="#7d7d7d"/><rect x="0" y="27" width="1" height="1" fill="#949494"/><rect x="1" y="27" width="1" height="1" fill="#a2a2a2"/><rect x="2" y="27" width="1" height="1" fill="#909090"/><rect x="3" y="27" width="1" height="1" fill="#747474"/><rect x="4" y="27" width="1" height="1" fill="#b3b3b3"/><rect x="5" y="27" width="1" height="1" fill="#8c8c8c"/><rect x="6" y="27" width="1" height="1" fill="#9f9f9f"/><rect x="0" y="28" width="1" height="1" fill="#adadad"/><rect x="1" y="28" width="1" height="1" fill="#adadad"/><rect x="2" y="28" width="1" height="1" fill="#b3b3b3"/><rect x="3" y="28" width="1" height="1" fill="#858585"/><rect x="4" y="28" width="1" height="1" fill="#676767"/><rect x="5" y="28" width="1" height="1" fill="#747474"/><rect x="6" y="28" width="1" height="1" fill="#a8a8a8"/><rect x="0" y="29" width="1" height="1" fill="#8b8b8b"/><rect x="1" y="29" width="1" height="1" fill="#aaaaaa"/><rect x="2" y="29" width="1" height="1" fill="#7b7b7b"/><rect x="3" y="29" width="1" height="1" fill="#969696"/><rect x="4" y="29" width="1" height="1" fill="#858585"/><rect x="5" y="29" width="1" height="1" fill="#6b6b6b"/><rect x="6" y="29" width="1" height="1" fill="#959595"/><rect x="0" y="30" width="1" height="1" fill="#afafaf"/><rect x="1" y="30" width="1" height="1" fill="#737373"/><rect x="2" y="30" width="1" height="1" fill="#848484"/><rect x="3" y="30" width="1" height="1" fill="#808080"/><rect x="4" y="30" width="1" height="1" fill="#969696"/><rect x="5" y="30" width="1" height="1" fill="#8b8b8b"/><rect x="6" y="30" width="1" height="1" fill="#a1a1a1"/><rect x="0" y="31" width="1" height="1" fill="#a8a8a8"/><rect x="1" y="31" width="1" height="1" fill="#c3c3c3"/><rect x="2" y="31" width="1" height="1" fill="#737373"/><rect x="3" y="31" width="1" height="1" fill="#8f8f8f"/><rect x="4" y="31" width="1" height="1" fill="#616161"/><rect x="5" y="31" width="1" height="1" fill="#8a8a8a"/><rect x="6" y="31" width="1" height="1" fill="#b4b4b4"/><rect x="0" y="32" width="1" height="1" fill="#8a8a8a"/><rect x="1" y="32" width="1" height="1" fill="#6b6b6b"/><rect x="2" y="32" width="1" height="1" fill="#767676"/><rect x="3" y="32" width="1" height="1" fill="#9a9a9a"/><rect x="4" y="32" width="1" height="1" fill="#b8b8b8"/><rect x="5" y="32" width="1" height="1" fill="#bebebe"/><rect x="6" y="32" width="1" height="1" fill="#999999"/><rect x="0" y="33" width="1" height="1" fill="#808080"/><rect x="1" y="33" width="1" height="1" fill="#979797"/><rect x="2" y="33" width="1" height="1" fill="#8e8e8e"/><rect x="3" y="33" width="1" height="1" fill="#5b5b5b"/><rect x="4" y="33" width="1" height="1" fill="#ededed"/><rect x="5" y="33" width="1" height="1" fill="#c6c6c6"/><rect x="6" y="33" width="1" height="1" fill="#a2a2a2"/><rect x="0" y="34" width="1" height="1" fill="#d4d4d4"/><rect x="1" y="34" width="1" height="1" fill="#b2b2b2"/><rect x="2" y="34" width="1" height="1" fill="#626262"/><rect x="3" y="34" width="1" height="1" fill="#6e6e6e"/><rect x="4" y="34" width="1" height="1" fill="#b7b7b7"/><rect x="5" y="34" width="1" height="1" fill="#b2b2b2"/><rect x="6" y="34" width="1" height="1" fill="#5f5f5f"/><rect x="0" y="35" width="1" height="1" fill="#c4c4c4"/><rect x="1" y="35" width="1" height="1" fill="#bababa"/><rect x="2" y="35" width="1" height="1" fill="#5f5f5f"/><rect x="3" y="35" width="1" height="1" fill="#afafaf"/><rect x="4" y="35" width="1" height="1" fill="#b2b2b2"/><rect x="5" y="35" width="1" height="1" fill="#c7c7c7"/><rect x="6" y="35" width="1" height="1" fill="#666666"/><rect x="0" y="36" width="1" height="1" fill="#959595"/><rect x="1" y="36" width="1" height="1" fill="#808080"/><rect x="2" y="36" width="1" height="1" fill="#b4b4b4"/><rect x="3" y="36" width="1" height="1" fill="#d4d4d4"/><rect x="4" y="36" width="1" height="1" fill="#bebebe"/><rect x="5" y="36" width="1" height="1" fill="#a8a8a8"/><rect x="6" y="36" width="1" height="1" fill="#818181"/><rect x="0" y="37" width="1" height="1" fill="#777777"/><rect x="1" y="37" width="1" height="1" fill="#7f7f7f"/><rect x="2" y="37" width="1" height="1" fill="#afafaf"/><rect x="3" y="37" width="1" height="1" fill="#b2b2b2"/><rect x="4" y="37" width="1" height="1" fill="#b7b7b7"/><rect x="5" y="37" width="1" height="1" fill="#cdcdcd"/><rect x="6" y="37" width="1" height="1" fill="#777777"/><rect x="0" y="38" width="1" height="1" fill="#696969"/><rect x="1" y="38" width="1" height="1" fill="#939393"/><rect x="2" y="38" width="1" height="1" fill="#949494"/><rect x="3" y="38" width="1" height="1" fill="#b3b3b3"/><rect x="4" y="38" width="1" height="1" fill="#515151"/><rect x="5" y="38" width="1" height="1" fill="#686868"/><rect x="6" y="38" width="1" height="1" fill="#aeaeae"/><rect x="0" y="39" width="1" height="1" fill="#4e4e4e"/><rect x="1" y="39" width="1" height="1" fill="#656565"/><rect x="2" y="39" width="1" height="1" fill="#868686"/><rect x="3" y="39" width="1" height="1" fill="#b6b6b6"/><rect x="4" y="39" width="1" height="1" fill="#393939"/><rect x="5" y="39" width="1" height="1" fill="#6f6f6f"/><rect x="6" y="39" width="1" height="1" fill="#bdbdbd"/><rect x="0" y="40" width="1" height="1" fill="#afafaf"/><rect x="1" y="40" width="1" height="1" fill="#b3b3b3"/><rect x="2" y="40" width="1" height="1" fill="#7f7f7f"/><rect x="3" y="40" width="1" height="1" fill="#888888"/><rect x="4" y="40" width="1" height="1" fill="#a9a9a9"/><rect x="5" y="40" width="1" height="1" fill="#adadad"/><rect x="6" y="40" width="1" height="1" fill="#bababa"/><rect x="0" y="41" width="1" height="1" fill="#a2a2a2"/><rect x="1" y="41" width="1" height="1" fill="#989898"/><rect x="2" y="41" width="1" height="1" fill="#7e7e7e"/><rect x="3" y="41" width="1" height="1" fill="#909090"/><rect x="4" y="41" width="1" height="1" fill="#858585"/><rect x="5" y="41" width="1" height="1" fill="#8d8d8d"/><rect x="6" y="41" width="1" height="1" fill="#a4a4a4"/><rect x="0" y="42" width="1" height="1" fill="#949494"/><rect x="1" y="42" width="1" height="1" fill="#999999"/><rect x="2" y="42" width="1" height="1" fill="#727272"/><rect x="3" y="42" width="1" height="1" fill="#9e9e9e"/><rect x="4" y="42" width="1" height="1" fill="#bdbdbd"/><rect x="5" y="42" width="1" height="1" fill="#d1d1d1"/><rect x="6" y="42" width="1" height="1" fill="#626262"/><rect x="0" y="43" width="1" height="1" fill="#999999"/><rect x="1" y="43" width="1" height="1" fill="#a8a8a8"/><rect x="2" y="43" width="1" height="1" fill="#aeaeae"/><rect x="3" y="43" width="1" height="1" fill="#bcbcbc"/><rect x="4" y="43" width="1" height="1" fill="#d6d6d6"/><rect x="5" y="43" width="1" height="1" fill="#adadad"/><rect x="6" y="43" width="1" height="1" fill="#949494"/><rect x="0" y="44" width="1" height="1" fill="#949494"/><rect x="1" y="44" width="1" height="1" fill="#8b8b8b"/><rect x="2" y="44" width="1" height="1" fill="#a4a4a4"/><rect x="3" y="44" width="1" height="1" fill="#7a7a7a"/><rect x="4" y="44" width="1" height="1" fill="#a3a3a3"/><rect x="5" y="44" width="1" height="1" fill="#acacac"/><rect x="6" y="44" width="1" height="1" fill="#797979"/><rect x="0" y="45" width="1" height="1" fill="#aeaeae"/><rect x="1" y="45" width="1" height="1" fill="#a2a2a2"/><rect x="2" y="45" width="1" height="1" fill="#a1a1a1"/><rect x="3" y="45" width="1" height="1" fill="#8e8e8e"/><rect x="4" y="45" width="1" height="1" fill="#a8a8a8"/><rect x="5" y="45" width="1" height="1" fill="#c8c8c8"/><rect x="6" y="45" width="1" height="1" fill="#7d7d7d"/><rect x="0" y="46" width="1" height="1" fill="#9a9a9a"/><rect x="1" y="46" width="1" height="1" fill="#a0a0a0"/><rect x="2" y="46" width="1" height="1" fill="#9a9a9a"/><rect x="3" y="46" width="1" height="1" fill="#b0b0b0"/><rect x="4" y="46" width="1" height="1" fill="#8c8c8c"/><rect x="5" y="46" width="1" height="1" fill="#9e9e9e"/><rect x="6" y="46" width="1" height="1" fill="#c7c7c7"/><rect x="0" y="47" width="1" height="1" fill="#8b8b8b"/><rect x="1" y="47" width="1" height="1" fill="#8e8e8e"/><rect x="2" y="47" width="1" height="1" fill="#959595"/><rect x="3" y="47" width="1" height="1" fill="#a1a1a1"/><rect x="4" y="47" width="1" height="1" fill="#9e9e9e"/><rect x="5" y="47" width="1" height="1" fill="#a1a1a1"/><rect x="6" y="47" width="1" height="1" fill="#c8c8c8"/><rect x="0" y="48" width="1" height="1" fill="#8a8a8a"/><rect x="1" y="48" width="1" height="1" fill="#9b9b9b"/><rect x="2" y="48" width="1" height="1" fill="#ababab"/><rect x="3" y="48" width="1" height="1" fill="#a5a5a5"/><rect x="4" y="48" width="1" height="1" fill="#a7a7a7"/><rect x="5" y="48" width="1" height="1" fill="#929292"/><rect x="6" y="48" width="1" height="1" fill="#b2b2b2"/><rect x="0" y="49" width="1" height="1" fill="#858585"/><rect x="1" y="49" width="1" height="1" fill="#888888"/><rect x="2" y="49" width="1" height="1" fill="#bebebe"/><rect x="3" y="49" width="1" height="1" fill="#afafaf"/><rect x="4" y="49" width="1" height="1" fill="#a5a5a5"/><rect x="5" y="49" width="1" height="1" fill="#8d8d8d"/><rect x="6" y="49" width="1" height="1" fill="#bfbfbf"/><rect x="0" y="50" width="1" height="1" fill="#808080"/><rect x="1" y="50" width="1" height="1" fill="#999999"/><rect x="2" y="50" width="1" height="1" fill="#7a7a7a"/><rect x="3" y="50" width="1" height="1" fill="#a1a1a1"/><rect x="4" y="50" width="1" height="1" fill="#b0b0b0"/><rect x="5" y="50" width="1" height="1" fill="#7c7c7c"/><rect x="6" y="50" width="1" height="1" fill="#7d7d7d"/><rect x="0" y="51" width="1" height="1" fill="#939393"/><rect x="1" y="51" width="1" height="1" fill="#939393"/><rect x="2" y="51" width="1" height="1" fill="#949494"/><rect x="3" y="51" width="1" height="1" fill="#b5b5b5"/><rect x="4" y="51" width="1" height="1" fill="#aeaeae"/><rect x="5" y="51" width="1" height="1" fill="#999999"/><rect x="6" y="51" width="1" height="1" fill="#929292"/><rect x="0" y="52" width="1" height="1" fill="#9c9c9c"/><rect x="1" y="52" width="1" height="1" fill="#9e9e9e"/><rect x="2" y="52" width="1" height="1" fill="#898989"/><rect x="3" y="52" width="1" height="1" fill="#9c9c9c"/><rect x="4" y="52" width="1" height="1" fill="#969696"/><rect x="5" y="52" width="1" height="1" fill="#aaaaaa"/><rect x="6" y="52" width="1" height="1" fill="#c4c4c4"/><rect x="0" y="53" width="1" height="1" fill="#919191"/><rect x="1" y="53" width="1" height="1" fill="#999999"/><rect x="2" y="53" width="1" height="1" fill="#a3a3a3"/><rect x="3" y="53" width="1" height="1" fill="#8b8b8b"/><rect x="4" y="53" width="1" height="1" fill="#9c9c9c"/><rect x="5" y="53" width="1" height="1" fill="#9f9f9f"/><rect x="6" y="53" width="1" height="1" fill="#b8b8b8"/><rect x="0" y="54" width="1" height="1" fill="#545454"/><rect x="1" y="54" width="1" height="1" fill="#838383"/><rect x="2" y="54" width="1" height="1" fill="#696969"/><rect x="3" y="54" width="1" height="1" fill="#676767"/><rect x="4" y="54" width="1" height="1" fill="#545454"/><rect x="5" y="54" width="1" height="1" fill="#7a7a7a"/><rect x="6" y="54" width="1" height="1" fill="#868686"/><rect x="0" y="55" width="1" height="1" fill="#757575"/><rect x="1" y="55" width="1" height="1" fill="#737373"/><rect x="2" y="55" width="1" height="1" fill="#6c6c6c"/><rect x="3" y="55" width="1" height="1" fill="#505050"/><rect x="4" y="55" width="1" height="1" fill="#505050"/><rect x="5" y="55" width="1" height="1" fill="#8a8a8a"/><rect x="6" y="55" width="1" height="1" fill="#a2a2a2"/><rect x="0" y="56" width="1" height="1" fill="#979797"/><rect x="1" y="56" width="1" height="1" fill="#9d9d9d"/><rect x="2" y="56" width="1" height="1" fill="#a1a1a1"/><rect x="3" y="56" width="1" height="1" fill="#757575"/><rect x="4" y="56" width="1" height="1" fill="#bdbdbd"/><rect x="5" y="56" width="1" height="1" fill="#bebebe"/><rect x="6" y="56" width="1" height="1" fill="#d2d2d2"/><rect x="0" y="57" width="1" height="1" fill="#5d5d5d"/><rect x="1" y="57" width="1" height="1" fill="#9b9b9b"/><rect x="2" y="57" width="1" height="1" fill="#b0b0b0"/><rect x="3" y="57" width="1" height="1" fill="#8c8c8c"/><rect x="4" y="57" width="1" height="1" fill="#a8a8a8"/><rect x="5" y="57" width="1" height="1" fill="#b5b5b5"/><rect x="6" y="57" width="1" height="1" fill="#c7c7c7"/><rect x="0" y="58" width="1" height="1" fill="#b4b4b4"/><rect x="1" y="58" width="1" height="1" fill="#a0a0a0"/><rect x="2" y="58" width="1" height="1" fill="#b0b0b0"/><rect x="3" y="58" width="1" height="1" fill="#a5a5a5"/><rect x="4" y="58" width="1" height="1" fill="#646464"/><rect x="5" y="58" width="1" height="1" fill="#6d6d6d"/><rect x="6" y="58" width="1" height="1" fill="#e4e4e4"/><rect x="0" y="59" width="1" height="1" fill="#a4a4a4"/><rect x="1" y="59" width="1" height="1" fill="#b8b8b8"/><rect x="2" y="59" width="1" height="1" fill="#b9b9b9"/><rect x="3" y="59" width="1" height="1" fill="#c4c4c4"/><rect x="4" y="59" width="1" height="1" fill="#8b8b8b"/><rect x="5" y="59" width="1" height="1" fill="#757575"/><rect x="6" y="59" width="1" height="1" fill="#a7a7a7"/><rect x="0" y="60" width="1" height="1" fill="#989898"/><rect x="1" y="60" width="1" height="1" fill="#b9b9b9"/><rect x="2" y="60" width="1" height="1" fill="#cecece"/><rect x="3" y="60" width="1" height="1" fill="#929292"/><rect x="4" y="60" width="1" height="1" fill="#616161"/><rect x="5" y="60" width="1" height="1" fill="#6d6d6d"/><rect x="6" y="60" width="1" height="1" fill="#c9c9c9"/></pattern>
<g id="lamp">
  <path d="M94,392.6 C101,389.6 112,389.6 127,389.6 C143,389.6 153,390.2 160,391.6" fill="none" stroke="#000" stroke-width="1.9"/>
  <path d="M94,393.6 C101,396.8 112,397.6 127,397.6 C143,397.6 153,396.8 160,395.2" fill="none" stroke="#000" stroke-width="1.9"/>
  <ellipse cx="75.6" cy="437.4" rx="33.6" ry="15.9" fill="#fff" stroke="#000" stroke-width="1.3"/>
  <ellipse cx="75" cy="435" rx="32.8" ry="14.6" fill="#fff" stroke="#000" stroke-width="1.3"/>
  <ellipse cx="76.4" cy="428" rx="8.1" ry="8" fill="#fff" stroke="#000" stroke-width="1.3"/>
  <g stroke="#000" stroke-width="1.35" stroke-linecap="round">
    <line x1="61.5" y1="432.8" x2="66.4" y2="430.3"/>
    <line x1="61.5" y1="442.3" x2="68.3" y2="434.7"/>
    <line x1="71.4" y1="442.3" x2="73.8" y2="437.4"/>
    <line x1="78.2" y1="437.7" x2="78.4" y2="449.5"/>
    <line x1="82.5" y1="435.9" x2="85.6" y2="440.2"/>
    <line x1="87.4" y1="432.8" x2="94.2" y2="440.2"/>
    <line x1="86.8" y1="427.3" x2="91.1" y2="429.1"/>
  </g>
  <path d="M67.5,399 C64,400 61,402.5 59.8,405 L55.4,410.3 L51.1,416.4 L46.7,423.3 L43.2,429.4 L41.5,432.8 C46,427 54,422.5 64,421.4 C70,420.6 74,420.4 78,420.4 C88,420.5 97,423 101.6,426 C104.5,428 106.5,430 107.8,432.6 L105.1,426.8 L101.6,420.7 L98.1,414.6 L93.8,408.5 L89.4,403.7 L85.1,399.8 C83.5,398.6 82,397.8 80.7,397.4 Z" fill="url(#pshade)" stroke="#000" stroke-width="1.3" stroke-linejoin="round"/>
  <path d="M67,399.5 C68.5,394.5 72,390.8 77,390.8 C79.5,391 81.5,394 81.8,397.6 C76,397.6 71,398.2 67,399.5 Z" fill="url(#pcap)" stroke="#000" stroke-width="1.1"/>
  <rect x="78.2" y="390.5" width="17.4" height="5" rx="1" fill="#777" stroke="#000" stroke-width="1"/><rect x="89.5" y="390.8" width="6" height="4.4" fill="#222"/>
  <g stroke="#fff" stroke-width="0.9"><line x1="83.5" y1="391.4" x2="83.5" y2="394.6"/><line x1="85.5" y1="391.4" x2="85.5" y2="394.6"/><line x1="87.5" y1="391.4" x2="87.5" y2="394.6"/></g>
</g>
<g id="stand">
  <rect x="160" y="375.4" width="4.6" height="171.4" fill="url(#prod)" stroke="#000" stroke-width="1.4"/>
  <path d="M123,565.5 L181,565.5 L199.8,531.1 L200.4,531.1 L200.4,537.5 L182,571.6 L123,571.6 Z" fill="#111"/>
  <path d="M143,531.1 L199.8,531.1 L181,565.8 L123,565.8 Z" fill="url(#pbase)" stroke="#000" stroke-width="1.2" stroke-linejoin="round"/>
  <rect x="160" y="531.6" width="4.6" height="15.2" fill="url(#prod)" stroke="#000" stroke-width="1.4"/>
  <path d="M159.3,387.8 L167.5,387.8 L166.8,393 L167.5,398.6 L159.3,398.6 Z" fill="#000"/>
</g>
<g id="bsand">
  <path d="M60.5,529.5 C66,527 87,527 92.9,529.5 L92.9,552.8 C87,557.3 66,557.3 60.5,552.8 Z" fill="url(#psand)"/>
  <path d="M60.5,514.6 L60.5,552.8 C66,557.6 87,557.6 92.9,552.8 L92.9,514.6" fill="none" stroke="#000" stroke-width="1.3"/>
  <path d="M60.5,514.6 C62,511 71,510 76.7,510 C82,510 91,511 92.9,514.6" fill="none" stroke="#000" stroke-width="1.2"/>
  <rect x="71.4" y="494.6" width="11" height="37" fill="#fff" stroke="#000" stroke-width="1.2"/><ellipse cx="76.9" cy="531" rx="3" ry="1.5" fill="#222"/>
  <rect x="75.30" y="496.70" width="3.2" height="1.2" fill="#000"/><rect x="75.30" y="500.00" width="3.2" height="1.2" fill="#000"/><rect x="75.30" y="503.30" width="3.2" height="1.2" fill="#000"/><rect x="75.30" y="506.50" width="3.2" height="1.2" fill="#000"/><rect x="75.30" y="509.80" width="3.2" height="1.2" fill="#000"/><rect x="75.30" y="513.00" width="3.2" height="1.2" fill="#000"/><rect x="75.30" y="516.00" width="3.2" height="1.2" fill="#000"/><rect x="75.30" y="522.60" width="3.2" height="1.2" fill="#000"/><rect x="75.30" y="525.90" width="3.2" height="1.2" fill="#000"/>
  <path d="M60.5,514.6 C62,518.4 71,519.3 76.7,519.3 C82,519.3 91,518.4 92.9,514.6" fill="none" stroke="#000" stroke-width="1.2"/>
  <path d="M60.5,529.5 C66,527.3 71,527.2 71.4,527.2 M82.4,527.2 C87,527.3 92.9,529.5 92.9,529.5" fill="none" stroke="#000" stroke-width="1.2"/><path d="M61,530 C66,532.2 87,532.2 92.4,530" fill="none" stroke="#222" stroke-width="1"/>
</g></defs>
<use href="#stand"/>
<use href="#lamp"/>
<use href="#bsand"/>
<use href="#stand" transform="translate(196.5,0)"/>
<use href="#lamp" transform="translate(197.5,0)"/>
<use href="#bsand" transform="translate(197.6,-0.6)"/><path d="M259,541.2 L289,540.6" stroke="#333" stroke-width="0.9" stroke-dasharray="3 1 5 1"/>
<use href="#stand" transform="translate(395,0)"/>
<use href="#lamp" transform="translate(396,0)"/>

<g id="bwater">
  <rect x="468.5" y="494.9" width="10.6" height="46.4" fill="#fff" stroke="#000" stroke-width="1.2"/>
  <rect x="472.20" y="496.40" width="3.6" height="1.2" fill="#000"/><rect x="472.20" y="499.90" width="3.6" height="1.2" fill="#000"/><rect x="472.20" y="503.40" width="3.6" height="1.2" fill="#000"/><rect x="472.20" y="506.40" width="3.6" height="1.2" fill="#000"/><rect x="472.20" y="516.00" width="3.6" height="1.2" fill="#000"/><rect x="472.20" y="522.50" width="3.6" height="1.2" fill="#000"/><rect x="472.20" y="529.10" width="3.6" height="1.2" fill="#000"/><rect x="472.20" y="535.60" width="3.6" height="1.2" fill="#000"/><rect x="472.20" y="538.70" width="3.6" height="1.2" fill="#000"/>
  <path d="M459.3,514.6 L459.3,553 C465,558 485,558 490.7,553 L490.7,514.6" fill="none" stroke="#000" stroke-width="1.3"/>
  <path d="M459.3,514.6 C462,511 470,510 475,510 C480,510 488,511 490.7,514.6 C488,518.6 480,519.6 475,519.6 C470,519.6 462,518.6 459.3,514.6 Z" fill="none" stroke="#000" stroke-width="1.2"/>
  <path d="M459.3,530.6 C464,528.2 470,527.8 475,527.8 C480,527.8 486,528.2 490.7,530.6 C486,533 480,533.6 475,533.6 C470,533.6 464,533 459.3,530.6 Z" fill="none" stroke="#000" stroke-width="1.2"/>
  <rect x="452" y="512.6" width="47.4" height="3" rx="1" fill="#fff" stroke="#000" stroke-width="1.05"/>
  <rect x="468.5" y="494.9" width="10.6" height="17.2" fill="#fff" stroke="#000" stroke-width="1.2"/>
  <rect x="472.20" y="496.40" width="3.6" height="1.2" fill="#000"/><rect x="472.20" y="499.90" width="3.6" height="1.2" fill="#000"/><rect x="472.20" y="503.40" width="3.6" height="1.2" fill="#000"/><rect x="472.20" y="506.40" width="3.6" height="1.2" fill="#000"/>
</g>
</svg>
<div class="cap" style="left:88.5px;top:578px">Dry Sand</div>
<div class="cap" style="left:285px;top:578px">Wet Sand</div>
<div class="cap" style="left:492.5px;top:578px;letter-spacing:0.3px">Water</div>
</body></html>
